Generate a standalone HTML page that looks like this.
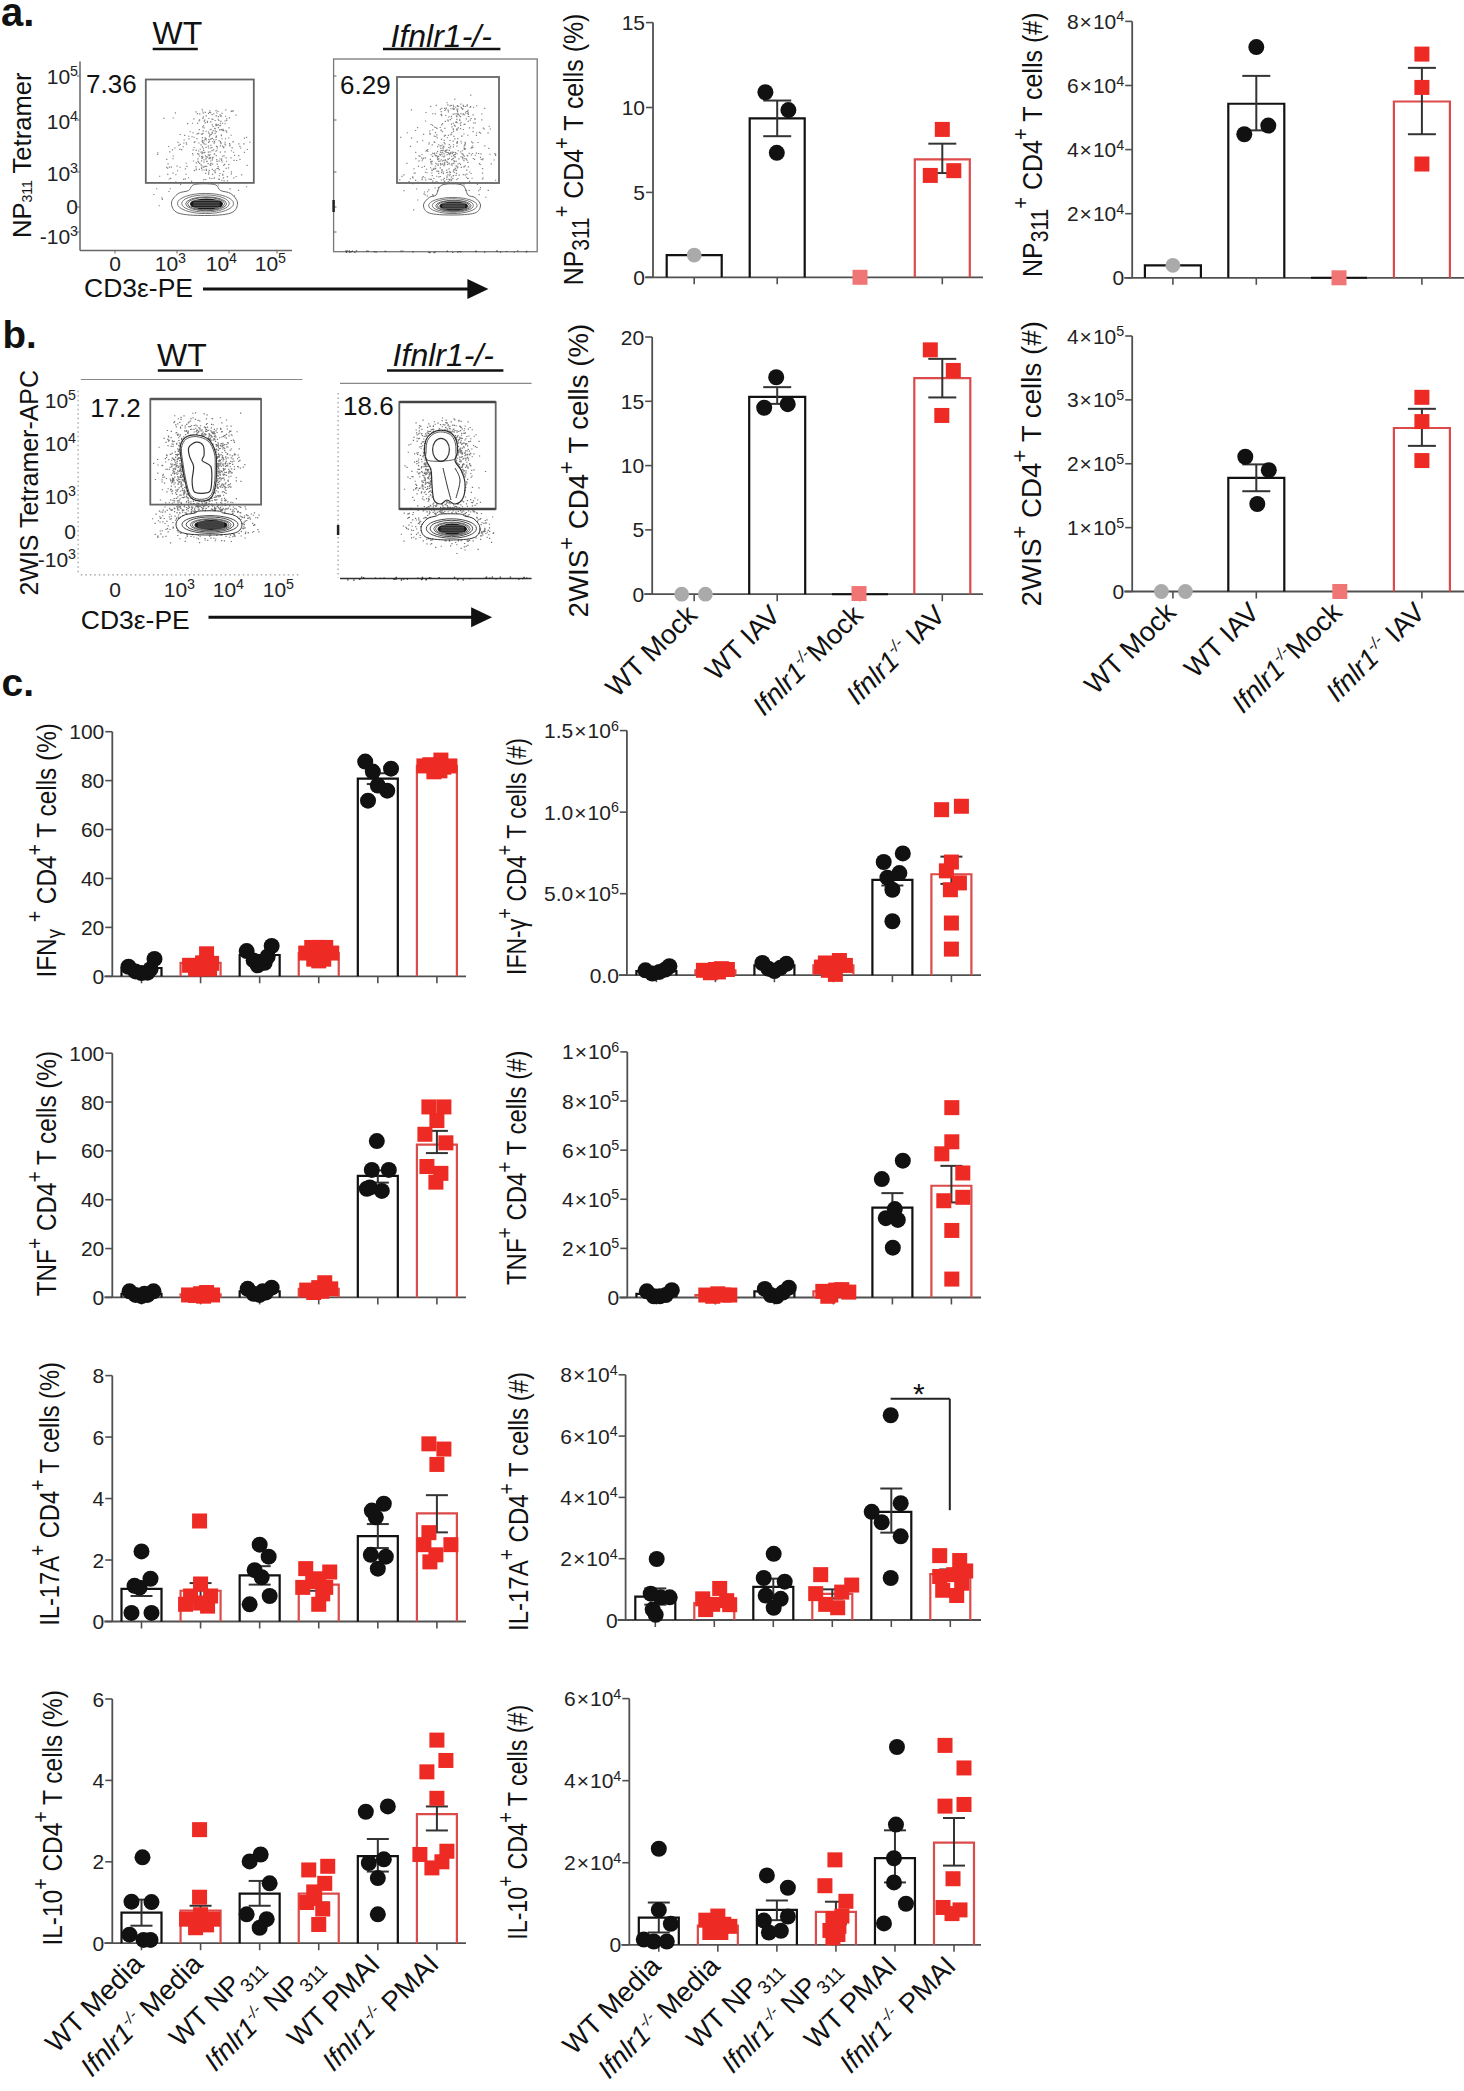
<!DOCTYPE html>
<html><head><meta charset="utf-8"><style>
html,body{margin:0;padding:0;background:#fff;}
svg{display:block;font-family:"Liberation Sans", sans-serif;}
</style></head><body>
<svg width="1464" height="2091" viewBox="0 0 1464 2091">
<rect width="1464" height="2091" fill="#fff"/>
<line x1="653" y1="22.6" x2="653" y2="277.3" stroke="#505050" stroke-width="1.8" />
<line x1="645" y1="277.3" x2="983" y2="277.3" stroke="#505050" stroke-width="1.8" />
<line x1="646" y1="277.3" x2="653" y2="277.3" stroke="#505050" stroke-width="1.6" />
<text x="645" y="284.8" font-size="21" text-anchor="end" fill="#222">0</text>
<line x1="646" y1="192.4" x2="653" y2="192.4" stroke="#505050" stroke-width="1.6" />
<text x="645" y="199.9" font-size="21" text-anchor="end" fill="#222">5</text>
<line x1="646" y1="107.5" x2="653" y2="107.5" stroke="#505050" stroke-width="1.6" />
<text x="645" y="115" font-size="21" text-anchor="end" fill="#222">10</text>
<line x1="646" y1="22.6" x2="653" y2="22.6" stroke="#505050" stroke-width="1.6" />
<text x="645" y="30.1" font-size="21" text-anchor="end" fill="#222">15</text>
<line x1="694.2" y1="277.3" x2="694.2" y2="284.3" stroke="#505050" stroke-width="1.6" />
<path d="M666.7 277.3 V255.06 H721.7 V277.3" fill="none" stroke="#111" stroke-width="2.2"/>
<circle cx="694.2" cy="255.06" r="7.4" fill="#aaaaaa"/>
<line x1="777.2" y1="277.3" x2="777.2" y2="284.3" stroke="#505050" stroke-width="1.6" />
<path d="M749.7 277.3 V118.37 H804.7 V277.3" fill="none" stroke="#111" stroke-width="2.2"/>
<line x1="777.2" y1="136.2" x2="777.2" y2="100.54" stroke="#333" stroke-width="2.0" />
<line x1="763.2" y1="100.54" x2="791.2" y2="100.54" stroke="#333" stroke-width="2.0" />
<line x1="763.2" y1="136.2" x2="791.2" y2="136.2" stroke="#333" stroke-width="2.0" />
<circle cx="765.4" cy="92.22" r="8" fill="#111"/>
<circle cx="788.4" cy="110.05" r="8" fill="#111"/>
<circle cx="776.8" cy="152.84" r="8" fill="#111"/>
<line x1="860" y1="277.3" x2="860" y2="284.3" stroke="#505050" stroke-width="1.6" />
<rect x="852.5" y="269.8" width="15" height="15" fill="#f07575"/>
<line x1="942.3" y1="277.3" x2="942.3" y2="284.3" stroke="#505050" stroke-width="1.6" />
<path d="M914.8 277.3 V159.29 H969.8 V277.3" fill="none" stroke="#dc4a4a" stroke-width="2.2"/>
<line x1="942.3" y1="173.04" x2="942.3" y2="143.67" stroke="#333" stroke-width="2.0" />
<line x1="928.3" y1="143.67" x2="956.3" y2="143.67" stroke="#333" stroke-width="2.0" />
<line x1="928.3" y1="173.04" x2="956.3" y2="173.04" stroke="#333" stroke-width="2.0" />
<rect x="934.8" y="121.9" width="15" height="15" fill="#ee2a24"/>
<rect x="922.8" y="167.92" width="15" height="15" fill="#ee2a24"/>
<rect x="946.3" y="163.17" width="15" height="15" fill="#ee2a24"/>
<text x="583.3" y="285.3" font-size="25" fill="#111" textLength="271.7" lengthAdjust="spacingAndGlyphs" transform="translate(583.3 285.3) scale(1.1 1) rotate(-90) translate(-583.3 -285.3)"><tspan font-size="25" dy="0">NP</tspan><tspan font-size="21" dy="5">311</tspan><tspan font-size="20" dy="-18">+</tspan><tspan font-size="25" dy="13"> CD4</tspan><tspan font-size="20" dy="-13">+</tspan><tspan font-size="25" dy="13"> T cells (%)</tspan></text>
<line x1="1132.2" y1="21.4" x2="1132.2" y2="277.8" stroke="#505050" stroke-width="1.8" />
<line x1="1124.2" y1="277.8" x2="1464" y2="277.8" stroke="#505050" stroke-width="1.8" />
<line x1="1125.2" y1="277.8" x2="1132.2" y2="277.8" stroke="#505050" stroke-width="1.6" />
<text x="1124.2" y="285.3" font-size="21" text-anchor="end" fill="#222">0</text>
<line x1="1125.2" y1="213.7" x2="1132.2" y2="213.7" stroke="#505050" stroke-width="1.6" />
<text x="1124.2" y="221.2" font-size="21" text-anchor="end" fill="#222"><tspan>2</tspan><tspan dx="1">×</tspan><tspan dx="1">10</tspan><tspan font-size="14.3" dy="-7.5">4</tspan><tspan dy="7.5"></tspan></text>
<line x1="1125.2" y1="149.6" x2="1132.2" y2="149.6" stroke="#505050" stroke-width="1.6" />
<text x="1124.2" y="157.1" font-size="21" text-anchor="end" fill="#222"><tspan>4</tspan><tspan dx="1">×</tspan><tspan dx="1">10</tspan><tspan font-size="14.3" dy="-7.5">4</tspan><tspan dy="7.5"></tspan></text>
<line x1="1125.2" y1="85.5" x2="1132.2" y2="85.5" stroke="#505050" stroke-width="1.6" />
<text x="1124.2" y="93" font-size="21" text-anchor="end" fill="#222"><tspan>6</tspan><tspan dx="1">×</tspan><tspan dx="1">10</tspan><tspan font-size="14.3" dy="-7.5">4</tspan><tspan dy="7.5"></tspan></text>
<line x1="1125.2" y1="21.4" x2="1132.2" y2="21.4" stroke="#505050" stroke-width="1.6" />
<text x="1124.2" y="28.9" font-size="21" text-anchor="end" fill="#222"><tspan>8</tspan><tspan dx="1">×</tspan><tspan dx="1">10</tspan><tspan font-size="14.3" dy="-7.5">4</tspan><tspan dy="7.5"></tspan></text>
<line x1="1172.9" y1="277.8" x2="1172.9" y2="284.8" stroke="#505050" stroke-width="1.6" />
<path d="M1144.9 277.8 V265.3 H1200.9 V277.8" fill="none" stroke="#111" stroke-width="2.2"/>
<circle cx="1172.9" cy="265.3" r="7.4" fill="#aaaaaa"/>
<line x1="1256.3" y1="277.8" x2="1256.3" y2="284.8" stroke="#505050" stroke-width="1.6" />
<path d="M1228.3 277.8 V103.77 H1284.3 V277.8" fill="none" stroke="#111" stroke-width="2.2"/>
<line x1="1256.3" y1="130.37" x2="1256.3" y2="75.88" stroke="#333" stroke-width="2.0" />
<line x1="1242.3" y1="75.88" x2="1270.3" y2="75.88" stroke="#333" stroke-width="2.0" />
<line x1="1242.3" y1="130.37" x2="1270.3" y2="130.37" stroke="#333" stroke-width="2.0" />
<circle cx="1256.3" cy="47.04" r="8" fill="#111"/>
<circle cx="1244.3" cy="134.22" r="8" fill="#111"/>
<circle cx="1268.3" cy="125.56" r="8" fill="#111"/>
<line x1="1339" y1="277.8" x2="1339" y2="284.8" stroke="#505050" stroke-width="1.6" />
<line x1="1311" y1="277.8" x2="1367" y2="277.8" stroke="#111" stroke-width="2" />
<rect x="1331.5" y="270.3" width="15" height="15" fill="#f07575"/>
<line x1="1421.9" y1="277.8" x2="1421.9" y2="284.8" stroke="#505050" stroke-width="1.6" />
<path d="M1393.9 277.8 V101.52 H1449.9 V277.8" fill="none" stroke="#dc4a4a" stroke-width="2.2"/>
<line x1="1421.9" y1="134.22" x2="1421.9" y2="67.87" stroke="#333" stroke-width="2.0" />
<line x1="1407.9" y1="67.87" x2="1435.9" y2="67.87" stroke="#333" stroke-width="2.0" />
<line x1="1407.9" y1="134.22" x2="1435.9" y2="134.22" stroke="#333" stroke-width="2.0" />
<rect x="1414.4" y="46.59" width="15" height="15" fill="#ee2a24"/>
<rect x="1414.4" y="79.92" width="15" height="15" fill="#ee2a24"/>
<rect x="1414.4" y="156.52" width="15" height="15" fill="#ee2a24"/>
<text x="1042.5" y="277" font-size="25" fill="#111" textLength="264.5" lengthAdjust="spacingAndGlyphs" transform="translate(1042.5 277) scale(1.1 1) rotate(-90) translate(-1042.5 -277)"><tspan font-size="25" dy="0">NP</tspan><tspan font-size="21" dy="5">311</tspan><tspan font-size="20" dy="-18">+</tspan><tspan font-size="25" dy="13"> CD4</tspan><tspan font-size="20" dy="-13">+</tspan><tspan font-size="25" dy="13"> T cells (#)</tspan></text>
<line x1="652.2" y1="337" x2="652.2" y2="594.2" stroke="#505050" stroke-width="1.8" />
<line x1="644.2" y1="594.2" x2="983" y2="594.2" stroke="#505050" stroke-width="1.8" />
<line x1="645.2" y1="594.2" x2="652.2" y2="594.2" stroke="#505050" stroke-width="1.6" />
<text x="644.2" y="601.7" font-size="21" text-anchor="end" fill="#222">0</text>
<line x1="645.2" y1="529.9" x2="652.2" y2="529.9" stroke="#505050" stroke-width="1.6" />
<text x="644.2" y="537.4" font-size="21" text-anchor="end" fill="#222">5</text>
<line x1="645.2" y1="465.6" x2="652.2" y2="465.6" stroke="#505050" stroke-width="1.6" />
<text x="644.2" y="473.1" font-size="21" text-anchor="end" fill="#222">10</text>
<line x1="645.2" y1="401.3" x2="652.2" y2="401.3" stroke="#505050" stroke-width="1.6" />
<text x="644.2" y="408.8" font-size="21" text-anchor="end" fill="#222">15</text>
<line x1="645.2" y1="337" x2="652.2" y2="337" stroke="#505050" stroke-width="1.6" />
<text x="644.2" y="344.5" font-size="21" text-anchor="end" fill="#222">20</text>
<line x1="694.2" y1="594.2" x2="694.2" y2="601.2" stroke="#505050" stroke-width="1.6" />
<circle cx="681.7" cy="594.2" r="7.4" fill="#aaaaaa"/>
<circle cx="705.4" cy="594.2" r="7.4" fill="#aaaaaa"/>
<line x1="777.2" y1="594.2" x2="777.2" y2="601.2" stroke="#505050" stroke-width="1.6" />
<path d="M749.2 594.2 V396.8 H805.2 V594.2" fill="none" stroke="#111" stroke-width="2.2"/>
<line x1="777.2" y1="403.87" x2="777.2" y2="387.15" stroke="#333" stroke-width="2.0" />
<line x1="763.2" y1="387.15" x2="791.2" y2="387.15" stroke="#333" stroke-width="2.0" />
<line x1="763.2" y1="403.87" x2="791.2" y2="403.87" stroke="#333" stroke-width="2.0" />
<circle cx="776.2" cy="377.25" r="8" fill="#111"/>
<circle cx="764.2" cy="407.73" r="8" fill="#111"/>
<circle cx="787.7" cy="404.13" r="8" fill="#111"/>
<line x1="860" y1="594.2" x2="860" y2="601.2" stroke="#505050" stroke-width="1.6" />
<line x1="832" y1="594.2" x2="888" y2="594.2" stroke="#111" stroke-width="2" />
<rect x="851.5" y="586.06" width="15" height="15" fill="#f07575"/>
<line x1="942.3" y1="594.2" x2="942.3" y2="601.2" stroke="#505050" stroke-width="1.6" />
<path d="M914.3 594.2 V378.15 H970.3 V594.2" fill="none" stroke="#dc4a4a" stroke-width="2.2"/>
<line x1="942.3" y1="397.44" x2="942.3" y2="358.86" stroke="#333" stroke-width="2.0" />
<line x1="928.3" y1="358.86" x2="956.3" y2="358.86" stroke="#333" stroke-width="2.0" />
<line x1="928.3" y1="397.44" x2="956.3" y2="397.44" stroke="#333" stroke-width="2.0" />
<rect x="922.8" y="342.36" width="15" height="15" fill="#ee2a24"/>
<rect x="945.8" y="362.94" width="15" height="15" fill="#ee2a24"/>
<rect x="934.3" y="407.95" width="15" height="15" fill="#ee2a24"/>
<text x="588.4" y="617.4" font-size="25" fill="#111" textLength="293.6" lengthAdjust="spacingAndGlyphs" transform="translate(588.4 617.4) scale(1.1 1) rotate(-90) translate(-588.4 -617.4)"><tspan font-size="25" dy="0">2WIS</tspan><tspan font-size="20" dy="-13">+</tspan><tspan font-size="25" dy="13"> CD4</tspan><tspan font-size="20" dy="-13">+</tspan><tspan font-size="25" dy="13"> T cells (%)</tspan></text>
<line x1="1132.2" y1="336" x2="1132.2" y2="591.5" stroke="#505050" stroke-width="1.8" />
<line x1="1124.2" y1="591.5" x2="1464" y2="591.5" stroke="#505050" stroke-width="1.8" />
<line x1="1125.2" y1="591.5" x2="1132.2" y2="591.5" stroke="#505050" stroke-width="1.6" />
<text x="1124.2" y="599" font-size="21" text-anchor="end" fill="#222">0</text>
<line x1="1125.2" y1="527.62" x2="1132.2" y2="527.62" stroke="#505050" stroke-width="1.6" />
<text x="1124.2" y="535.12" font-size="21" text-anchor="end" fill="#222"><tspan>1</tspan><tspan dx="1">×</tspan><tspan dx="1">10</tspan><tspan font-size="14.3" dy="-7.5">5</tspan><tspan dy="7.5"></tspan></text>
<line x1="1125.2" y1="463.75" x2="1132.2" y2="463.75" stroke="#505050" stroke-width="1.6" />
<text x="1124.2" y="471.25" font-size="21" text-anchor="end" fill="#222"><tspan>2</tspan><tspan dx="1">×</tspan><tspan dx="1">10</tspan><tspan font-size="14.3" dy="-7.5">5</tspan><tspan dy="7.5"></tspan></text>
<line x1="1125.2" y1="399.88" x2="1132.2" y2="399.88" stroke="#505050" stroke-width="1.6" />
<text x="1124.2" y="407.38" font-size="21" text-anchor="end" fill="#222"><tspan>3</tspan><tspan dx="1">×</tspan><tspan dx="1">10</tspan><tspan font-size="14.3" dy="-7.5">5</tspan><tspan dy="7.5"></tspan></text>
<line x1="1125.2" y1="336" x2="1132.2" y2="336" stroke="#505050" stroke-width="1.6" />
<text x="1124.2" y="343.5" font-size="21" text-anchor="end" fill="#222"><tspan>4</tspan><tspan dx="1">×</tspan><tspan dx="1">10</tspan><tspan font-size="14.3" dy="-7.5">5</tspan><tspan dy="7.5"></tspan></text>
<line x1="1172.9" y1="591.5" x2="1172.9" y2="598.5" stroke="#505050" stroke-width="1.6" />
<circle cx="1161.4" cy="591.5" r="7.4" fill="#aaaaaa"/>
<circle cx="1185.4" cy="591.5" r="7.4" fill="#aaaaaa"/>
<line x1="1256.3" y1="591.5" x2="1256.3" y2="598.5" stroke="#505050" stroke-width="1.6" />
<path d="M1228.3 591.5 V477.8 H1284.3 V591.5" fill="none" stroke="#111" stroke-width="2.2"/>
<line x1="1256.3" y1="491.22" x2="1256.3" y2="464.39" stroke="#333" stroke-width="2.0" />
<line x1="1242.3" y1="464.39" x2="1270.3" y2="464.39" stroke="#333" stroke-width="2.0" />
<line x1="1242.3" y1="491.22" x2="1270.3" y2="491.22" stroke="#333" stroke-width="2.0" />
<circle cx="1245.3" cy="456.72" r="8" fill="#111"/>
<circle cx="1268.8" cy="470.14" r="8" fill="#111"/>
<circle cx="1257.3" cy="503.99" r="8" fill="#111"/>
<line x1="1339" y1="591.5" x2="1339" y2="598.5" stroke="#505050" stroke-width="1.6" />
<rect x="1332.3" y="584" width="15" height="15" fill="#f07575"/>
<line x1="1421.9" y1="591.5" x2="1421.9" y2="598.5" stroke="#505050" stroke-width="1.6" />
<path d="M1393.9 591.5 V427.98 H1449.9 V591.5" fill="none" stroke="#dc4a4a" stroke-width="2.2"/>
<line x1="1421.9" y1="445.87" x2="1421.9" y2="408.82" stroke="#333" stroke-width="2.0" />
<line x1="1407.9" y1="408.82" x2="1435.9" y2="408.82" stroke="#333" stroke-width="2.0" />
<line x1="1407.9" y1="445.87" x2="1435.9" y2="445.87" stroke="#333" stroke-width="2.0" />
<rect x="1414.4" y="389.82" width="15" height="15" fill="#ee2a24"/>
<rect x="1414.4" y="414.09" width="15" height="15" fill="#ee2a24"/>
<rect x="1414.4" y="453.06" width="15" height="15" fill="#ee2a24"/>
<text x="1041.5" y="606.4" font-size="25" fill="#111" textLength="285.3" lengthAdjust="spacingAndGlyphs" transform="translate(1041.5 606.4) scale(1.1 1) rotate(-90) translate(-1041.5 -606.4)"><tspan font-size="25" dy="0">2WIS</tspan><tspan font-size="20" dy="-13">+</tspan><tspan font-size="25" dy="13"> CD4</tspan><tspan font-size="20" dy="-13">+</tspan><tspan font-size="25" dy="13"> T cells (#)</tspan></text>
<text x="698.7" y="616.7" font-size="27.5" text-anchor="end" fill="#111" transform="rotate(-45 698.7 616.7)">WT Mock</text>
<text x="781.7" y="616.7" font-size="27.5" text-anchor="end" fill="#111" transform="rotate(-45 781.7 616.7)">WT IAV</text>
<text x="864.5" y="616.7" font-size="27.5" text-anchor="end" fill="#111" transform="rotate(-45 864.5 616.7)"><tspan font-size="27.5" dy="0" font-style="italic">Ifnlr1</tspan><tspan font-size="16" dy="-11" font-style="italic">-/-</tspan><tspan font-size="27.5" dy="11">Mock</tspan></text>
<text x="946.8" y="616.7" font-size="27.5" text-anchor="end" fill="#111" transform="rotate(-45 946.8 616.7)"><tspan font-size="27.5" dy="0" font-style="italic">Ifnlr1</tspan><tspan font-size="16" dy="-11" font-style="italic">-/-</tspan><tspan font-size="27.5" dy="11"> IAV</tspan></text>
<text x="1177.4" y="614" font-size="27.5" text-anchor="end" fill="#111" transform="rotate(-45 1177.4 614)">WT Mock</text>
<text x="1260.8" y="614" font-size="27.5" text-anchor="end" fill="#111" transform="rotate(-45 1260.8 614)">WT IAV</text>
<text x="1343.5" y="614" font-size="27.5" text-anchor="end" fill="#111" transform="rotate(-45 1343.5 614)"><tspan font-size="27.5" dy="0" font-style="italic">Ifnlr1</tspan><tspan font-size="16" dy="-11" font-style="italic">-/-</tspan><tspan font-size="27.5" dy="11">Mock</tspan></text>
<text x="1426.4" y="614" font-size="27.5" text-anchor="end" fill="#111" transform="rotate(-45 1426.4 614)"><tspan font-size="27.5" dy="0" font-style="italic">Ifnlr1</tspan><tspan font-size="16" dy="-11" font-style="italic">-/-</tspan><tspan font-size="27.5" dy="11"> IAV</tspan></text>
<line x1="112.3" y1="731.7" x2="112.3" y2="976.3" stroke="#505050" stroke-width="1.8" />
<line x1="104.3" y1="976.3" x2="466" y2="976.3" stroke="#505050" stroke-width="1.8" />
<line x1="105.3" y1="976.3" x2="112.3" y2="976.3" stroke="#505050" stroke-width="1.6" />
<text x="104.3" y="983.8" font-size="21" text-anchor="end" fill="#222">0</text>
<line x1="105.3" y1="927.38" x2="112.3" y2="927.38" stroke="#505050" stroke-width="1.6" />
<text x="104.3" y="934.88" font-size="21" text-anchor="end" fill="#222">20</text>
<line x1="105.3" y1="878.46" x2="112.3" y2="878.46" stroke="#505050" stroke-width="1.6" />
<text x="104.3" y="885.96" font-size="21" text-anchor="end" fill="#222">40</text>
<line x1="105.3" y1="829.54" x2="112.3" y2="829.54" stroke="#505050" stroke-width="1.6" />
<text x="104.3" y="837.04" font-size="21" text-anchor="end" fill="#222">60</text>
<line x1="105.3" y1="780.62" x2="112.3" y2="780.62" stroke="#505050" stroke-width="1.6" />
<text x="104.3" y="788.12" font-size="21" text-anchor="end" fill="#222">80</text>
<line x1="105.3" y1="731.7" x2="112.3" y2="731.7" stroke="#505050" stroke-width="1.6" />
<text x="104.3" y="739.2" font-size="21" text-anchor="end" fill="#222">100</text>
<line x1="141.5" y1="976.3" x2="141.5" y2="983.3" stroke="#505050" stroke-width="1.6" />
<path d="M121.5 976.3 V967.98 H161.5 V976.3" fill="none" stroke="#111" stroke-width="2.2"/>
<circle cx="128.5" cy="966.76" r="8" fill="#111"/>
<circle cx="135.5" cy="971.41" r="8" fill="#111"/>
<circle cx="141.5" cy="973.12" r="8" fill="#111"/>
<circle cx="147.5" cy="972.63" r="8" fill="#111"/>
<circle cx="150.5" cy="969.21" r="8" fill="#111"/>
<circle cx="154.5" cy="958.93" r="8" fill="#111"/>
<line x1="200.58" y1="976.3" x2="200.58" y2="983.3" stroke="#505050" stroke-width="1.6" />
<path d="M180.58 976.3 V962.85 H220.58 V976.3" fill="none" stroke="#dc4a4a" stroke-width="2.2"/>
<rect x="182.08" y="957.79" width="15" height="15" fill="#ee2a24"/>
<rect x="188.08" y="961.71" width="15" height="15" fill="#ee2a24"/>
<rect x="195.08" y="955.35" width="15" height="15" fill="#ee2a24"/>
<rect x="199.08" y="946.3" width="15" height="15" fill="#ee2a24"/>
<rect x="204.08" y="955.84" width="15" height="15" fill="#ee2a24"/>
<rect x="192.08" y="960.24" width="15" height="15" fill="#ee2a24"/>
<rect x="202.08" y="961.46" width="15" height="15" fill="#ee2a24"/>
<line x1="259.66" y1="976.3" x2="259.66" y2="983.3" stroke="#505050" stroke-width="1.6" />
<path d="M239.66 976.3 V955.02 H279.66 V976.3" fill="none" stroke="#111" stroke-width="2.2"/>
<circle cx="246.66" cy="951.11" r="8" fill="#111"/>
<circle cx="253.66" cy="960.4" r="8" fill="#111"/>
<circle cx="257.66" cy="965.29" r="8" fill="#111"/>
<circle cx="264.66" cy="962.85" r="8" fill="#111"/>
<circle cx="267.66" cy="956.49" r="8" fill="#111"/>
<circle cx="271.66" cy="945.97" r="8" fill="#111"/>
<line x1="318.74" y1="976.3" x2="318.74" y2="983.3" stroke="#505050" stroke-width="1.6" />
<path d="M298.74 976.3 V953.06 H338.74 V976.3" fill="none" stroke="#dc4a4a" stroke-width="2.2"/>
<rect x="298.24" y="945.56" width="15" height="15" fill="#ee2a24"/>
<rect x="304.24" y="939.94" width="15" height="15" fill="#ee2a24"/>
<rect x="311.24" y="939.94" width="15" height="15" fill="#ee2a24"/>
<rect x="318.24" y="939.94" width="15" height="15" fill="#ee2a24"/>
<rect x="324.24" y="945.56" width="15" height="15" fill="#ee2a24"/>
<rect x="306.24" y="951.68" width="15" height="15" fill="#ee2a24"/>
<rect x="311.24" y="953.39" width="15" height="15" fill="#ee2a24"/>
<rect x="316.24" y="951.68" width="15" height="15" fill="#ee2a24"/>
<line x1="377.82" y1="976.3" x2="377.82" y2="983.3" stroke="#505050" stroke-width="1.6" />
<path d="M357.82 976.3 V778.66 H397.82 V976.3" fill="none" stroke="#111" stroke-width="2.2"/>
<line x1="377.82" y1="784.04" x2="377.82" y2="773.28" stroke="#333" stroke-width="2.0" />
<line x1="366.82" y1="773.28" x2="388.82" y2="773.28" stroke="#333" stroke-width="2.0" />
<line x1="366.82" y1="784.04" x2="388.82" y2="784.04" stroke="#333" stroke-width="2.0" />
<circle cx="365.22" cy="761.54" r="8" fill="#111"/>
<circle cx="372.82" cy="771.57" r="8" fill="#111"/>
<circle cx="391.02" cy="768.63" r="8" fill="#111"/>
<circle cx="387.22" cy="790.65" r="8" fill="#111"/>
<circle cx="368.02" cy="800.68" r="8" fill="#111"/>
<circle cx="377.82" cy="785.51" r="8" fill="#111"/>
<line x1="436.9" y1="976.3" x2="436.9" y2="983.3" stroke="#505050" stroke-width="1.6" />
<path d="M416.9 976.3 V765.94 H456.9 V976.3" fill="none" stroke="#dc4a4a" stroke-width="2.2"/>
<line x1="436.9" y1="768.39" x2="436.9" y2="763.5" stroke="#333" stroke-width="2.0" />
<line x1="425.9" y1="763.5" x2="447.9" y2="763.5" stroke="#333" stroke-width="2.0" />
<line x1="425.9" y1="768.39" x2="447.9" y2="768.39" stroke="#333" stroke-width="2.0" />
<rect x="433.4" y="752.57" width="15" height="15" fill="#ee2a24"/>
<rect x="416.4" y="758.44" width="15" height="15" fill="#ee2a24"/>
<rect x="422.4" y="757.22" width="15" height="15" fill="#ee2a24"/>
<rect x="429.4" y="758.44" width="15" height="15" fill="#ee2a24"/>
<rect x="436.4" y="759.67" width="15" height="15" fill="#ee2a24"/>
<rect x="442.4" y="758.44" width="15" height="15" fill="#ee2a24"/>
<rect x="426.4" y="764.31" width="15" height="15" fill="#ee2a24"/>
<rect x="432.4" y="763.34" width="15" height="15" fill="#ee2a24"/>
<line x1="626.9" y1="730.6" x2="626.9" y2="975.2" stroke="#505050" stroke-width="1.8" />
<line x1="618.9" y1="975.2" x2="981" y2="975.2" stroke="#505050" stroke-width="1.8" />
<line x1="619.9" y1="975.2" x2="626.9" y2="975.2" stroke="#505050" stroke-width="1.6" />
<text x="618.9" y="982.7" font-size="21" text-anchor="end" fill="#222">0.0</text>
<line x1="619.9" y1="893.67" x2="626.9" y2="893.67" stroke="#505050" stroke-width="1.6" />
<text x="618.9" y="901.17" font-size="21" text-anchor="end" fill="#222"><tspan>5.0</tspan><tspan dx="1">×</tspan><tspan dx="1">10</tspan><tspan font-size="14.3" dy="-7.5">5</tspan><tspan dy="7.5"></tspan></text>
<line x1="619.9" y1="812.13" x2="626.9" y2="812.13" stroke="#505050" stroke-width="1.6" />
<text x="618.9" y="819.63" font-size="21" text-anchor="end" fill="#222"><tspan>1.0</tspan><tspan dx="1">×</tspan><tspan dx="1">10</tspan><tspan font-size="14.3" dy="-7.5">6</tspan><tspan dy="7.5"></tspan></text>
<line x1="619.9" y1="730.6" x2="626.9" y2="730.6" stroke="#505050" stroke-width="1.6" />
<text x="618.9" y="738.1" font-size="21" text-anchor="end" fill="#222"><tspan>1.5</tspan><tspan dx="1">×</tspan><tspan dx="1">10</tspan><tspan font-size="14.3" dy="-7.5">6</tspan><tspan dy="7.5"></tspan></text>
<line x1="656.4" y1="975.2" x2="656.4" y2="982.2" stroke="#505050" stroke-width="1.6" />
<path d="M636.4 975.2 V971.12 H676.4 V975.2" fill="none" stroke="#111" stroke-width="2.2"/>
<circle cx="645.4" cy="970.31" r="8" fill="#111"/>
<circle cx="652.4" cy="973.57" r="8" fill="#111"/>
<circle cx="659.4" cy="971.94" r="8" fill="#111"/>
<circle cx="665.4" cy="969.49" r="8" fill="#111"/>
<circle cx="669.4" cy="966.23" r="8" fill="#111"/>
<line x1="715.4" y1="975.2" x2="715.4" y2="982.2" stroke="#505050" stroke-width="1.6" />
<path d="M695.4 975.2 V970.31 H735.4 V975.2" fill="none" stroke="#dc4a4a" stroke-width="2.2"/>
<rect x="695.9" y="962.81" width="15" height="15" fill="#ee2a24"/>
<rect x="702.9" y="965.25" width="15" height="15" fill="#ee2a24"/>
<rect x="707.9" y="961.99" width="15" height="15" fill="#ee2a24"/>
<rect x="713.9" y="961.18" width="15" height="15" fill="#ee2a24"/>
<rect x="719.9" y="961.99" width="15" height="15" fill="#ee2a24"/>
<rect x="710.9" y="964.44" width="15" height="15" fill="#ee2a24"/>
<line x1="774.4" y1="975.2" x2="774.4" y2="982.2" stroke="#505050" stroke-width="1.6" />
<path d="M754.4 975.2 V965.42 H794.4 V975.2" fill="none" stroke="#111" stroke-width="2.2"/>
<circle cx="762.4" cy="962.97" r="8" fill="#111"/>
<circle cx="768.4" cy="968.68" r="8" fill="#111"/>
<circle cx="774.4" cy="971.12" r="8" fill="#111"/>
<circle cx="780.4" cy="967.86" r="8" fill="#111"/>
<circle cx="786.4" cy="963.79" r="8" fill="#111"/>
<line x1="833.4" y1="975.2" x2="833.4" y2="982.2" stroke="#505050" stroke-width="1.6" />
<path d="M813.4 975.2 V965.42 H853.4 V975.2" fill="none" stroke="#dc4a4a" stroke-width="2.2"/>
<rect x="813.9" y="959.55" width="15" height="15" fill="#ee2a24"/>
<rect x="820.9" y="962.81" width="15" height="15" fill="#ee2a24"/>
<rect x="825.9" y="956.29" width="15" height="15" fill="#ee2a24"/>
<rect x="831.9" y="953.02" width="15" height="15" fill="#ee2a24"/>
<rect x="837.9" y="957.92" width="15" height="15" fill="#ee2a24"/>
<rect x="827.9" y="966.88" width="15" height="15" fill="#ee2a24"/>
<rect x="817.9" y="955.47" width="15" height="15" fill="#ee2a24"/>
<line x1="892.4" y1="975.2" x2="892.4" y2="982.2" stroke="#505050" stroke-width="1.6" />
<path d="M872.4 975.2 V879.97 H912.4 V975.2" fill="none" stroke="#111" stroke-width="2.2"/>
<line x1="892.4" y1="885.51" x2="892.4" y2="874.1" stroke="#333" stroke-width="2.0" />
<line x1="881.4" y1="874.1" x2="903.4" y2="874.1" stroke="#333" stroke-width="2.0" />
<line x1="881.4" y1="885.51" x2="903.4" y2="885.51" stroke="#333" stroke-width="2.0" />
<circle cx="883.7" cy="862.03" r="8" fill="#111"/>
<circle cx="902.8" cy="853.39" r="8" fill="#111"/>
<circle cx="899.4" cy="873.12" r="8" fill="#111"/>
<circle cx="887.4" cy="877.69" r="8" fill="#111"/>
<circle cx="892.4" cy="889.75" r="8" fill="#111"/>
<circle cx="892.4" cy="921.22" r="8" fill="#111"/>
<line x1="951.4" y1="975.2" x2="951.4" y2="982.2" stroke="#505050" stroke-width="1.6" />
<path d="M931.4 975.2 V874.26 H971.4 V975.2" fill="none" stroke="#dc4a4a" stroke-width="2.2"/>
<line x1="951.4" y1="883.88" x2="951.4" y2="856.65" stroke="#333" stroke-width="2.0" />
<line x1="940.4" y1="856.65" x2="962.4" y2="856.65" stroke="#333" stroke-width="2.0" />
<line x1="940.4" y1="883.88" x2="962.4" y2="883.88" stroke="#333" stroke-width="2.0" />
<rect x="934.1" y="802.19" width="15" height="15" fill="#ee2a24"/>
<rect x="953.9" y="798.76" width="15" height="15" fill="#ee2a24"/>
<rect x="943.9" y="854.53" width="15" height="15" fill="#ee2a24"/>
<rect x="938.9" y="863.34" width="15" height="15" fill="#ee2a24"/>
<rect x="951.9" y="875.4" width="15" height="15" fill="#ee2a24"/>
<rect x="942.9" y="882.25" width="15" height="15" fill="#ee2a24"/>
<rect x="943.9" y="915.52" width="15" height="15" fill="#ee2a24"/>
<rect x="943.9" y="941.61" width="15" height="15" fill="#ee2a24"/>
<line x1="112.3" y1="1053.2" x2="112.3" y2="1297.4" stroke="#505050" stroke-width="1.8" />
<line x1="104.3" y1="1297.4" x2="466" y2="1297.4" stroke="#505050" stroke-width="1.8" />
<line x1="105.3" y1="1297.4" x2="112.3" y2="1297.4" stroke="#505050" stroke-width="1.6" />
<text x="104.3" y="1304.9" font-size="21" text-anchor="end" fill="#222">0</text>
<line x1="105.3" y1="1248.56" x2="112.3" y2="1248.56" stroke="#505050" stroke-width="1.6" />
<text x="104.3" y="1256.06" font-size="21" text-anchor="end" fill="#222">20</text>
<line x1="105.3" y1="1199.72" x2="112.3" y2="1199.72" stroke="#505050" stroke-width="1.6" />
<text x="104.3" y="1207.22" font-size="21" text-anchor="end" fill="#222">40</text>
<line x1="105.3" y1="1150.88" x2="112.3" y2="1150.88" stroke="#505050" stroke-width="1.6" />
<text x="104.3" y="1158.38" font-size="21" text-anchor="end" fill="#222">60</text>
<line x1="105.3" y1="1102.04" x2="112.3" y2="1102.04" stroke="#505050" stroke-width="1.6" />
<text x="104.3" y="1109.54" font-size="21" text-anchor="end" fill="#222">80</text>
<line x1="105.3" y1="1053.2" x2="112.3" y2="1053.2" stroke="#505050" stroke-width="1.6" />
<text x="104.3" y="1060.7" font-size="21" text-anchor="end" fill="#222">100</text>
<line x1="141.5" y1="1297.4" x2="141.5" y2="1304.4" stroke="#505050" stroke-width="1.6" />
<path d="M121.5 1297.4 V1293.74 H161.5 V1297.4" fill="none" stroke="#111" stroke-width="2.2"/>
<circle cx="129.5" cy="1291.3" r="8" fill="#111"/>
<circle cx="135.5" cy="1294.96" r="8" fill="#111"/>
<circle cx="141.5" cy="1296.18" r="8" fill="#111"/>
<circle cx="147.5" cy="1294.96" r="8" fill="#111"/>
<circle cx="153.5" cy="1291.3" r="8" fill="#111"/>
<circle cx="144.5" cy="1293.74" r="8" fill="#111"/>
<line x1="200.58" y1="1297.4" x2="200.58" y2="1304.4" stroke="#505050" stroke-width="1.6" />
<path d="M180.58 1297.4 V1294.47 H220.58 V1297.4" fill="none" stroke="#dc4a4a" stroke-width="2.2"/>
<rect x="181.08" y="1287.46" width="15" height="15" fill="#ee2a24"/>
<rect x="188.08" y="1287.95" width="15" height="15" fill="#ee2a24"/>
<rect x="193.08" y="1286.24" width="15" height="15" fill="#ee2a24"/>
<rect x="199.08" y="1285.02" width="15" height="15" fill="#ee2a24"/>
<rect x="205.08" y="1287.46" width="15" height="15" fill="#ee2a24"/>
<rect x="196.08" y="1288.68" width="15" height="15" fill="#ee2a24"/>
<line x1="259.66" y1="1297.4" x2="259.66" y2="1304.4" stroke="#505050" stroke-width="1.6" />
<path d="M239.66 1297.4 V1291.3 H279.66 V1297.4" fill="none" stroke="#111" stroke-width="2.2"/>
<circle cx="247.66" cy="1288.85" r="8" fill="#111"/>
<circle cx="253.66" cy="1293.74" r="8" fill="#111"/>
<circle cx="259.66" cy="1294.96" r="8" fill="#111"/>
<circle cx="265.66" cy="1292.52" r="8" fill="#111"/>
<circle cx="271.66" cy="1287.63" r="8" fill="#111"/>
<circle cx="262.66" cy="1291.3" r="8" fill="#111"/>
<line x1="318.74" y1="1297.4" x2="318.74" y2="1304.4" stroke="#505050" stroke-width="1.6" />
<path d="M298.74 1297.4 V1288.85 H338.74 V1297.4" fill="none" stroke="#dc4a4a" stroke-width="2.2"/>
<rect x="299.24" y="1282.57" width="15" height="15" fill="#ee2a24"/>
<rect x="306.24" y="1285.02" width="15" height="15" fill="#ee2a24"/>
<rect x="311.24" y="1280.13" width="15" height="15" fill="#ee2a24"/>
<rect x="317.24" y="1275.25" width="15" height="15" fill="#ee2a24"/>
<rect x="323.24" y="1281.35" width="15" height="15" fill="#ee2a24"/>
<rect x="314.24" y="1283.8" width="15" height="15" fill="#ee2a24"/>
<line x1="377.82" y1="1297.4" x2="377.82" y2="1304.4" stroke="#505050" stroke-width="1.6" />
<path d="M357.82 1297.4 V1175.79 H397.82 V1297.4" fill="none" stroke="#111" stroke-width="2.2"/>
<line x1="377.82" y1="1182.63" x2="377.82" y2="1170.42" stroke="#333" stroke-width="2.0" />
<line x1="366.82" y1="1170.42" x2="388.82" y2="1170.42" stroke="#333" stroke-width="2.0" />
<line x1="366.82" y1="1182.63" x2="388.82" y2="1182.63" stroke="#333" stroke-width="2.0" />
<circle cx="376.82" cy="1141.11" r="8" fill="#111"/>
<circle cx="371.82" cy="1169.93" r="8" fill="#111"/>
<circle cx="388.82" cy="1169.93" r="8" fill="#111"/>
<circle cx="369.82" cy="1187.51" r="8" fill="#111"/>
<circle cx="381.82" cy="1190.93" r="8" fill="#111"/>
<circle cx="366.82" cy="1188.73" r="8" fill="#111"/>
<line x1="436.9" y1="1297.4" x2="436.9" y2="1304.4" stroke="#505050" stroke-width="1.6" />
<path d="M416.9 1297.4 V1144.53 H456.9 V1297.4" fill="none" stroke="#dc4a4a" stroke-width="2.2"/>
<line x1="436.9" y1="1153.08" x2="436.9" y2="1130.86" stroke="#333" stroke-width="2.0" />
<line x1="425.9" y1="1130.86" x2="447.9" y2="1130.86" stroke="#333" stroke-width="2.0" />
<line x1="425.9" y1="1153.08" x2="447.9" y2="1153.08" stroke="#333" stroke-width="2.0" />
<rect x="421.4" y="1099.42" width="15" height="15" fill="#ee2a24"/>
<rect x="436.4" y="1099.42" width="15" height="15" fill="#ee2a24"/>
<rect x="429.4" y="1113.1" width="15" height="15" fill="#ee2a24"/>
<rect x="417.4" y="1126.77" width="15" height="15" fill="#ee2a24"/>
<rect x="438.4" y="1135.32" width="15" height="15" fill="#ee2a24"/>
<rect x="419.4" y="1159.01" width="15" height="15" fill="#ee2a24"/>
<rect x="433.4" y="1165.85" width="15" height="15" fill="#ee2a24"/>
<rect x="428.4" y="1174.64" width="15" height="15" fill="#ee2a24"/>
<line x1="627.3" y1="1051.9" x2="627.3" y2="1297.5" stroke="#505050" stroke-width="1.8" />
<line x1="619.3" y1="1297.5" x2="981" y2="1297.5" stroke="#505050" stroke-width="1.8" />
<line x1="620.3" y1="1297.5" x2="627.3" y2="1297.5" stroke="#505050" stroke-width="1.6" />
<text x="619.3" y="1305" font-size="21" text-anchor="end" fill="#222">0</text>
<line x1="620.3" y1="1248.38" x2="627.3" y2="1248.38" stroke="#505050" stroke-width="1.6" />
<text x="619.3" y="1255.88" font-size="21" text-anchor="end" fill="#222"><tspan>2</tspan><tspan dx="1">×</tspan><tspan dx="1">10</tspan><tspan font-size="14.3" dy="-7.5">5</tspan><tspan dy="7.5"></tspan></text>
<line x1="620.3" y1="1199.26" x2="627.3" y2="1199.26" stroke="#505050" stroke-width="1.6" />
<text x="619.3" y="1206.76" font-size="21" text-anchor="end" fill="#222"><tspan>4</tspan><tspan dx="1">×</tspan><tspan dx="1">10</tspan><tspan font-size="14.3" dy="-7.5">5</tspan><tspan dy="7.5"></tspan></text>
<line x1="620.3" y1="1150.14" x2="627.3" y2="1150.14" stroke="#505050" stroke-width="1.6" />
<text x="619.3" y="1157.64" font-size="21" text-anchor="end" fill="#222"><tspan>6</tspan><tspan dx="1">×</tspan><tspan dx="1">10</tspan><tspan font-size="14.3" dy="-7.5">5</tspan><tspan dy="7.5"></tspan></text>
<line x1="620.3" y1="1101.02" x2="627.3" y2="1101.02" stroke="#505050" stroke-width="1.6" />
<text x="619.3" y="1108.52" font-size="21" text-anchor="end" fill="#222"><tspan>8</tspan><tspan dx="1">×</tspan><tspan dx="1">10</tspan><tspan font-size="14.3" dy="-7.5">5</tspan><tspan dy="7.5"></tspan></text>
<line x1="620.3" y1="1051.9" x2="627.3" y2="1051.9" stroke="#505050" stroke-width="1.6" />
<text x="619.3" y="1059.4" font-size="21" text-anchor="end" fill="#222"><tspan>1</tspan><tspan dx="1">×</tspan><tspan dx="1">10</tspan><tspan font-size="14.3" dy="-7.5">6</tspan><tspan dy="7.5"></tspan></text>
<line x1="656.4" y1="1297.5" x2="656.4" y2="1304.5" stroke="#505050" stroke-width="1.6" />
<path d="M636.4 1297.5 V1293.82 H676.4 V1297.5" fill="none" stroke="#111" stroke-width="2.2"/>
<circle cx="646.8" cy="1291.36" r="8" fill="#111"/>
<circle cx="653.8" cy="1296.27" r="8" fill="#111"/>
<circle cx="659.8" cy="1296.27" r="8" fill="#111"/>
<circle cx="665.8" cy="1295.04" r="8" fill="#111"/>
<circle cx="671.8" cy="1290.13" r="8" fill="#111"/>
<line x1="715.4" y1="1297.5" x2="715.4" y2="1304.5" stroke="#505050" stroke-width="1.6" />
<path d="M695.4 1297.5 V1295.04 H735.4 V1297.5" fill="none" stroke="#dc4a4a" stroke-width="2.2"/>
<rect x="698.3" y="1287.54" width="15" height="15" fill="#ee2a24"/>
<rect x="705.3" y="1288.77" width="15" height="15" fill="#ee2a24"/>
<rect x="710.3" y="1286.32" width="15" height="15" fill="#ee2a24"/>
<rect x="716.3" y="1287.54" width="15" height="15" fill="#ee2a24"/>
<rect x="722.3" y="1287.54" width="15" height="15" fill="#ee2a24"/>
<line x1="774.4" y1="1297.5" x2="774.4" y2="1304.5" stroke="#505050" stroke-width="1.6" />
<path d="M754.4 1297.5 V1291.36 H794.4 V1297.5" fill="none" stroke="#111" stroke-width="2.2"/>
<circle cx="764.8" cy="1288.9" r="8" fill="#111"/>
<circle cx="770.8" cy="1295.04" r="8" fill="#111"/>
<circle cx="776.8" cy="1296.27" r="8" fill="#111"/>
<circle cx="782.8" cy="1292.59" r="8" fill="#111"/>
<circle cx="788.8" cy="1287.68" r="8" fill="#111"/>
<line x1="833.4" y1="1297.5" x2="833.4" y2="1304.5" stroke="#505050" stroke-width="1.6" />
<path d="M813.4 1297.5 V1291.36 H853.4 V1297.5" fill="none" stroke="#dc4a4a" stroke-width="2.2"/>
<rect x="815.3" y="1283.86" width="15" height="15" fill="#ee2a24"/>
<rect x="823.3" y="1287.54" width="15" height="15" fill="#ee2a24"/>
<rect x="828.3" y="1282.63" width="15" height="15" fill="#ee2a24"/>
<rect x="834.3" y="1282.14" width="15" height="15" fill="#ee2a24"/>
<rect x="841.3" y="1284.6" width="15" height="15" fill="#ee2a24"/>
<rect x="820.3" y="1288.77" width="15" height="15" fill="#ee2a24"/>
<line x1="892.4" y1="1297.5" x2="892.4" y2="1304.5" stroke="#505050" stroke-width="1.6" />
<path d="M872.4 1297.5 V1207.61 H912.4 V1297.5" fill="none" stroke="#111" stroke-width="2.2"/>
<line x1="892.4" y1="1221.36" x2="892.4" y2="1193.12" stroke="#333" stroke-width="2.0" />
<line x1="881.4" y1="1193.12" x2="903.4" y2="1193.12" stroke="#333" stroke-width="2.0" />
<line x1="881.4" y1="1221.36" x2="903.4" y2="1221.36" stroke="#333" stroke-width="2.0" />
<circle cx="881.8" cy="1179.12" r="8" fill="#111"/>
<circle cx="902.8" cy="1160.7" r="8" fill="#111"/>
<circle cx="885.8" cy="1218.17" r="8" fill="#111"/>
<circle cx="897.8" cy="1219.89" r="8" fill="#111"/>
<circle cx="892.8" cy="1247.64" r="8" fill="#111"/>
<circle cx="894.8" cy="1209.08" r="8" fill="#111"/>
<line x1="951.4" y1="1297.5" x2="951.4" y2="1304.5" stroke="#505050" stroke-width="1.6" />
<path d="M931.4 1297.5 V1185.75 H971.4 V1297.5" fill="none" stroke="#dc4a4a" stroke-width="2.2"/>
<line x1="951.4" y1="1202.45" x2="951.4" y2="1165.86" stroke="#333" stroke-width="2.0" />
<line x1="940.4" y1="1165.86" x2="962.4" y2="1165.86" stroke="#333" stroke-width="2.0" />
<line x1="940.4" y1="1202.45" x2="962.4" y2="1202.45" stroke="#333" stroke-width="2.0" />
<rect x="944.3" y="1100.15" width="15" height="15" fill="#ee2a24"/>
<rect x="944.3" y="1134.29" width="15" height="15" fill="#ee2a24"/>
<rect x="934.3" y="1146.32" width="15" height="15" fill="#ee2a24"/>
<rect x="955.3" y="1165.48" width="15" height="15" fill="#ee2a24"/>
<rect x="936.3" y="1193.23" width="15" height="15" fill="#ee2a24"/>
<rect x="955.3" y="1189.8" width="15" height="15" fill="#ee2a24"/>
<rect x="944.3" y="1222.95" width="15" height="15" fill="#ee2a24"/>
<rect x="944.3" y="1271.58" width="15" height="15" fill="#ee2a24"/>
<line x1="112.3" y1="1375.6" x2="112.3" y2="1621.5" stroke="#505050" stroke-width="1.8" />
<line x1="104.3" y1="1621.5" x2="466" y2="1621.5" stroke="#505050" stroke-width="1.8" />
<line x1="105.3" y1="1621.5" x2="112.3" y2="1621.5" stroke="#505050" stroke-width="1.6" />
<text x="104.3" y="1629" font-size="21" text-anchor="end" fill="#222">0</text>
<line x1="105.3" y1="1560.03" x2="112.3" y2="1560.03" stroke="#505050" stroke-width="1.6" />
<text x="104.3" y="1567.53" font-size="21" text-anchor="end" fill="#222">2</text>
<line x1="105.3" y1="1498.55" x2="112.3" y2="1498.55" stroke="#505050" stroke-width="1.6" />
<text x="104.3" y="1506.05" font-size="21" text-anchor="end" fill="#222">4</text>
<line x1="105.3" y1="1437.07" x2="112.3" y2="1437.07" stroke="#505050" stroke-width="1.6" />
<text x="104.3" y="1444.57" font-size="21" text-anchor="end" fill="#222">6</text>
<line x1="105.3" y1="1375.6" x2="112.3" y2="1375.6" stroke="#505050" stroke-width="1.6" />
<text x="104.3" y="1383.1" font-size="21" text-anchor="end" fill="#222">8</text>
<line x1="141.5" y1="1621.5" x2="141.5" y2="1628.5" stroke="#505050" stroke-width="1.6" />
<path d="M121.5 1621.5 V1588.92 H161.5 V1621.5" fill="none" stroke="#111" stroke-width="2.2"/>
<line x1="141.5" y1="1595.99" x2="141.5" y2="1581.54" stroke="#333" stroke-width="2.0" />
<line x1="130.5" y1="1581.54" x2="152.5" y2="1581.54" stroke="#333" stroke-width="2.0" />
<line x1="130.5" y1="1595.99" x2="152.5" y2="1595.99" stroke="#333" stroke-width="2.0" />
<circle cx="141.5" cy="1551.42" r="8" fill="#111"/>
<circle cx="150.5" cy="1578.77" r="8" fill="#111"/>
<circle cx="134.5" cy="1585.84" r="8" fill="#111"/>
<circle cx="131.5" cy="1612.89" r="8" fill="#111"/>
<circle cx="151.5" cy="1612.89" r="8" fill="#111"/>
<circle cx="139.5" cy="1587.69" r="8" fill="#111"/>
<line x1="200.58" y1="1621.5" x2="200.58" y2="1628.5" stroke="#505050" stroke-width="1.6" />
<path d="M180.58 1621.5 V1590.76 H220.58 V1621.5" fill="none" stroke="#dc4a4a" stroke-width="2.2"/>
<line x1="200.58" y1="1596.91" x2="200.58" y2="1583.08" stroke="#333" stroke-width="2.0" />
<line x1="189.58" y1="1583.08" x2="211.58" y2="1583.08" stroke="#333" stroke-width="2.0" />
<line x1="189.58" y1="1596.91" x2="211.58" y2="1596.91" stroke="#333" stroke-width="2.0" />
<rect x="192.08" y="1513.49" width="15" height="15" fill="#ee2a24"/>
<rect x="193.08" y="1576.5" width="15" height="15" fill="#ee2a24"/>
<rect x="183.08" y="1588.49" width="15" height="15" fill="#ee2a24"/>
<rect x="203.08" y="1588.49" width="15" height="15" fill="#ee2a24"/>
<rect x="178.08" y="1596.79" width="15" height="15" fill="#ee2a24"/>
<rect x="200.08" y="1598.63" width="15" height="15" fill="#ee2a24"/>
<rect x="193.08" y="1595.56" width="15" height="15" fill="#ee2a24"/>
<line x1="259.66" y1="1621.5" x2="259.66" y2="1628.5" stroke="#505050" stroke-width="1.6" />
<path d="M239.66 1621.5 V1575.39 H279.66 V1621.5" fill="none" stroke="#111" stroke-width="2.2"/>
<line x1="259.66" y1="1584.62" x2="259.66" y2="1566.17" stroke="#333" stroke-width="2.0" />
<line x1="248.66" y1="1566.17" x2="270.66" y2="1566.17" stroke="#333" stroke-width="2.0" />
<line x1="248.66" y1="1584.62" x2="270.66" y2="1584.62" stroke="#333" stroke-width="2.0" />
<circle cx="259.66" cy="1544.66" r="8" fill="#111"/>
<circle cx="268.66" cy="1556.64" r="8" fill="#111"/>
<circle cx="254.66" cy="1570.17" r="8" fill="#111"/>
<circle cx="261.66" cy="1577.24" r="8" fill="#111"/>
<circle cx="269.66" cy="1595.99" r="8" fill="#111"/>
<circle cx="249.66" cy="1604.29" r="8" fill="#111"/>
<line x1="318.74" y1="1621.5" x2="318.74" y2="1628.5" stroke="#505050" stroke-width="1.6" />
<path d="M298.74 1621.5 V1584.62 H338.74 V1621.5" fill="none" stroke="#dc4a4a" stroke-width="2.2"/>
<line x1="318.74" y1="1590.76" x2="318.74" y2="1581.54" stroke="#333" stroke-width="2.0" />
<line x1="307.74" y1="1581.54" x2="329.74" y2="1581.54" stroke="#333" stroke-width="2.0" />
<line x1="307.74" y1="1590.76" x2="329.74" y2="1590.76" stroke="#333" stroke-width="2.0" />
<rect x="298.24" y="1561.13" width="15" height="15" fill="#ee2a24"/>
<rect x="322.24" y="1564.51" width="15" height="15" fill="#ee2a24"/>
<rect x="295.24" y="1579.88" width="15" height="15" fill="#ee2a24"/>
<rect x="311.24" y="1571.27" width="15" height="15" fill="#ee2a24"/>
<rect x="318.24" y="1579.88" width="15" height="15" fill="#ee2a24"/>
<rect x="311.24" y="1596.79" width="15" height="15" fill="#ee2a24"/>
<rect x="305.24" y="1574.04" width="15" height="15" fill="#ee2a24"/>
<rect x="315.24" y="1586.34" width="15" height="15" fill="#ee2a24"/>
<line x1="377.82" y1="1621.5" x2="377.82" y2="1628.5" stroke="#505050" stroke-width="1.6" />
<path d="M357.82 1621.5 V1536.05 H397.82 V1621.5" fill="none" stroke="#111" stroke-width="2.2"/>
<line x1="377.82" y1="1548.04" x2="377.82" y2="1524.06" stroke="#333" stroke-width="2.0" />
<line x1="366.82" y1="1524.06" x2="388.82" y2="1524.06" stroke="#333" stroke-width="2.0" />
<line x1="366.82" y1="1548.04" x2="388.82" y2="1548.04" stroke="#333" stroke-width="2.0" />
<circle cx="383.82" cy="1503.78" r="8" fill="#111"/>
<circle cx="371.82" cy="1510.54" r="8" fill="#111"/>
<circle cx="375.82" cy="1517.3" r="8" fill="#111"/>
<circle cx="370.82" cy="1554.8" r="8" fill="#111"/>
<circle cx="385.82" cy="1556.64" r="8" fill="#111"/>
<circle cx="377.82" cy="1568.63" r="8" fill="#111"/>
<line x1="436.9" y1="1621.5" x2="436.9" y2="1628.5" stroke="#505050" stroke-width="1.6" />
<path d="M416.9 1621.5 V1513.3 H456.9 V1621.5" fill="none" stroke="#dc4a4a" stroke-width="2.2"/>
<line x1="436.9" y1="1532.36" x2="436.9" y2="1495.17" stroke="#333" stroke-width="2.0" />
<line x1="425.9" y1="1495.17" x2="447.9" y2="1495.17" stroke="#333" stroke-width="2.0" />
<line x1="425.9" y1="1532.36" x2="447.9" y2="1532.36" stroke="#333" stroke-width="2.0" />
<rect x="421.4" y="1436.34" width="15" height="15" fill="#ee2a24"/>
<rect x="436.4" y="1441.56" width="15" height="15" fill="#ee2a24"/>
<rect x="429.4" y="1456.93" width="15" height="15" fill="#ee2a24"/>
<rect x="421.4" y="1525.17" width="15" height="15" fill="#ee2a24"/>
<rect x="416.4" y="1537.16" width="15" height="15" fill="#ee2a24"/>
<rect x="443.4" y="1537.16" width="15" height="15" fill="#ee2a24"/>
<rect x="428.4" y="1547.3" width="15" height="15" fill="#ee2a24"/>
<rect x="422.4" y="1554.37" width="15" height="15" fill="#ee2a24"/>
<line x1="625.6" y1="1374.8" x2="625.6" y2="1620" stroke="#505050" stroke-width="1.8" />
<line x1="617.6" y1="1620" x2="981" y2="1620" stroke="#505050" stroke-width="1.8" />
<line x1="618.6" y1="1620" x2="625.6" y2="1620" stroke="#505050" stroke-width="1.6" />
<text x="617.6" y="1627.5" font-size="21" text-anchor="end" fill="#222">0</text>
<line x1="618.6" y1="1558.7" x2="625.6" y2="1558.7" stroke="#505050" stroke-width="1.6" />
<text x="617.6" y="1566.2" font-size="21" text-anchor="end" fill="#222"><tspan>2</tspan><tspan dx="1">×</tspan><tspan dx="1">10</tspan><tspan font-size="14.3" dy="-7.5">4</tspan><tspan dy="7.5"></tspan></text>
<line x1="618.6" y1="1497.4" x2="625.6" y2="1497.4" stroke="#505050" stroke-width="1.6" />
<text x="617.6" y="1504.9" font-size="21" text-anchor="end" fill="#222"><tspan>4</tspan><tspan dx="1">×</tspan><tspan dx="1">10</tspan><tspan font-size="14.3" dy="-7.5">4</tspan><tspan dy="7.5"></tspan></text>
<line x1="618.6" y1="1436.1" x2="625.6" y2="1436.1" stroke="#505050" stroke-width="1.6" />
<text x="617.6" y="1443.6" font-size="21" text-anchor="end" fill="#222"><tspan>6</tspan><tspan dx="1">×</tspan><tspan dx="1">10</tspan><tspan font-size="14.3" dy="-7.5">4</tspan><tspan dy="7.5"></tspan></text>
<line x1="618.6" y1="1374.8" x2="625.6" y2="1374.8" stroke="#505050" stroke-width="1.6" />
<text x="617.6" y="1382.3" font-size="21" text-anchor="end" fill="#222"><tspan>8</tspan><tspan dx="1">×</tspan><tspan dx="1">10</tspan><tspan font-size="14.3" dy="-7.5">4</tspan><tspan dy="7.5"></tspan></text>
<line x1="655.3" y1="1620" x2="655.3" y2="1627" stroke="#505050" stroke-width="1.6" />
<path d="M635.3 1620 V1596.71 H675.3 V1620" fill="none" stroke="#111" stroke-width="2.2"/>
<line x1="655.3" y1="1604.67" x2="655.3" y2="1588.43" stroke="#333" stroke-width="2.0" />
<line x1="644.3" y1="1588.43" x2="666.3" y2="1588.43" stroke="#333" stroke-width="2.0" />
<line x1="644.3" y1="1604.67" x2="666.3" y2="1604.67" stroke="#333" stroke-width="2.0" />
<circle cx="656.7" cy="1559.01" r="8" fill="#111"/>
<circle cx="650.7" cy="1593.64" r="8" fill="#111"/>
<circle cx="660.7" cy="1597.32" r="8" fill="#111"/>
<circle cx="652.7" cy="1609.58" r="8" fill="#111"/>
<circle cx="655.7" cy="1614.79" r="8" fill="#111"/>
<circle cx="669.7" cy="1597.32" r="8" fill="#111"/>
<line x1="714.3" y1="1620" x2="714.3" y2="1627" stroke="#505050" stroke-width="1.6" />
<path d="M694.3 1620 V1603.14 H734.3 V1620" fill="none" stroke="#dc4a4a" stroke-width="2.2"/>
<rect x="712.2" y="1580.93" width="15" height="15" fill="#ee2a24"/>
<rect x="695.2" y="1591.35" width="15" height="15" fill="#ee2a24"/>
<rect x="705.2" y="1596.87" width="15" height="15" fill="#ee2a24"/>
<rect x="719.2" y="1593.19" width="15" height="15" fill="#ee2a24"/>
<rect x="698.2" y="1602.08" width="15" height="15" fill="#ee2a24"/>
<rect x="722.2" y="1597.17" width="15" height="15" fill="#ee2a24"/>
<line x1="773.3" y1="1620" x2="773.3" y2="1627" stroke="#505050" stroke-width="1.6" />
<path d="M753.3 1620 V1586.9 H793.3 V1620" fill="none" stroke="#111" stroke-width="2.2"/>
<line x1="773.3" y1="1595.48" x2="773.3" y2="1578.62" stroke="#333" stroke-width="2.0" />
<line x1="762.3" y1="1578.62" x2="784.3" y2="1578.62" stroke="#333" stroke-width="2.0" />
<line x1="762.3" y1="1595.48" x2="784.3" y2="1595.48" stroke="#333" stroke-width="2.0" />
<circle cx="773.7" cy="1553.8" r="8" fill="#111"/>
<circle cx="763.7" cy="1578.01" r="8" fill="#111"/>
<circle cx="784.7" cy="1581.69" r="8" fill="#111"/>
<circle cx="765.7" cy="1595.48" r="8" fill="#111"/>
<circle cx="780.7" cy="1598.85" r="8" fill="#111"/>
<circle cx="773.7" cy="1607.74" r="8" fill="#111"/>
<line x1="832.3" y1="1620" x2="832.3" y2="1627" stroke="#505050" stroke-width="1.6" />
<path d="M812.3 1620 V1593.95 H852.3 V1620" fill="none" stroke="#dc4a4a" stroke-width="2.2"/>
<line x1="832.3" y1="1598.55" x2="832.3" y2="1589.35" stroke="#333" stroke-width="2.0" />
<line x1="821.3" y1="1589.35" x2="843.3" y2="1589.35" stroke="#333" stroke-width="2.0" />
<line x1="821.3" y1="1598.55" x2="843.3" y2="1598.55" stroke="#333" stroke-width="2.0" />
<rect x="813.2" y="1567.14" width="15" height="15" fill="#ee2a24"/>
<rect x="844.2" y="1577.56" width="15" height="15" fill="#ee2a24"/>
<rect x="834.2" y="1584.61" width="15" height="15" fill="#ee2a24"/>
<rect x="808.2" y="1586.14" width="15" height="15" fill="#ee2a24"/>
<rect x="818.2" y="1596.87" width="15" height="15" fill="#ee2a24"/>
<rect x="830.2" y="1600.24" width="15" height="15" fill="#ee2a24"/>
<line x1="891.3" y1="1620" x2="891.3" y2="1627" stroke="#505050" stroke-width="1.6" />
<path d="M871.3 1620 V1511.81 H911.3 V1620" fill="none" stroke="#111" stroke-width="2.2"/>
<line x1="891.3" y1="1532.65" x2="891.3" y2="1488.51" stroke="#333" stroke-width="2.0" />
<line x1="880.3" y1="1488.51" x2="902.3" y2="1488.51" stroke="#333" stroke-width="2.0" />
<line x1="880.3" y1="1532.65" x2="902.3" y2="1532.65" stroke="#333" stroke-width="2.0" />
<circle cx="890.7" cy="1415.26" r="8" fill="#111"/>
<circle cx="900.7" cy="1503.22" r="8" fill="#111"/>
<circle cx="871.7" cy="1511.81" r="8" fill="#111"/>
<circle cx="881.7" cy="1522.23" r="8" fill="#111"/>
<circle cx="900.7" cy="1536.33" r="8" fill="#111"/>
<circle cx="890.7" cy="1578.01" r="8" fill="#111"/>
<line x1="950.3" y1="1620" x2="950.3" y2="1627" stroke="#505050" stroke-width="1.6" />
<path d="M930.3 1620 V1574.03 H970.3 V1620" fill="none" stroke="#dc4a4a" stroke-width="2.2"/>
<line x1="950.3" y1="1577.09" x2="950.3" y2="1569.43" stroke="#333" stroke-width="2.0" />
<line x1="939.3" y1="1569.43" x2="961.3" y2="1569.43" stroke="#333" stroke-width="2.0" />
<line x1="939.3" y1="1577.09" x2="961.3" y2="1577.09" stroke="#333" stroke-width="2.0" />
<rect x="932.2" y="1548.13" width="15" height="15" fill="#ee2a24"/>
<rect x="952.2" y="1553.04" width="15" height="15" fill="#ee2a24"/>
<rect x="946.2" y="1567.14" width="15" height="15" fill="#ee2a24"/>
<rect x="932.2" y="1568.98" width="15" height="15" fill="#ee2a24"/>
<rect x="954.2" y="1575.72" width="15" height="15" fill="#ee2a24"/>
<rect x="935.2" y="1582.77" width="15" height="15" fill="#ee2a24"/>
<rect x="949.2" y="1587.98" width="15" height="15" fill="#ee2a24"/>
<rect x="958.2" y="1563.46" width="15" height="15" fill="#ee2a24"/>
<line x1="890.6" y1="1398.8" x2="949.8" y2="1398.8" stroke="#222" stroke-width="2" />
<line x1="949.8" y1="1398.8" x2="949.8" y2="1510.2" stroke="#222" stroke-width="2" />
<text x="918.8" y="1404" font-size="30" text-anchor="middle" fill="#111">*</text>
<line x1="112.3" y1="1699" x2="112.3" y2="1943.2" stroke="#505050" stroke-width="1.8" />
<line x1="104.3" y1="1943.2" x2="466" y2="1943.2" stroke="#505050" stroke-width="1.8" />
<line x1="105.3" y1="1943.2" x2="112.3" y2="1943.2" stroke="#505050" stroke-width="1.6" />
<text x="104.3" y="1950.7" font-size="21" text-anchor="end" fill="#222">0</text>
<line x1="105.3" y1="1861.8" x2="112.3" y2="1861.8" stroke="#505050" stroke-width="1.6" />
<text x="104.3" y="1869.3" font-size="21" text-anchor="end" fill="#222">2</text>
<line x1="105.3" y1="1780.4" x2="112.3" y2="1780.4" stroke="#505050" stroke-width="1.6" />
<text x="104.3" y="1787.9" font-size="21" text-anchor="end" fill="#222">4</text>
<line x1="105.3" y1="1699" x2="112.3" y2="1699" stroke="#505050" stroke-width="1.6" />
<text x="104.3" y="1706.5" font-size="21" text-anchor="end" fill="#222">6</text>
<line x1="141.5" y1="1943.2" x2="141.5" y2="1950.2" stroke="#505050" stroke-width="1.6" />
<path d="M121.5 1943.2 V1912.67 H161.5 V1943.2" fill="none" stroke="#111" stroke-width="2.2"/>
<line x1="141.5" y1="1925.7" x2="141.5" y2="1899.65" stroke="#333" stroke-width="2.0" />
<line x1="130.5" y1="1899.65" x2="152.5" y2="1899.65" stroke="#333" stroke-width="2.0" />
<line x1="130.5" y1="1925.7" x2="152.5" y2="1925.7" stroke="#333" stroke-width="2.0" />
<circle cx="142.5" cy="1857.32" r="8" fill="#111"/>
<circle cx="131.5" cy="1901.69" r="8" fill="#111"/>
<circle cx="151.5" cy="1902.09" r="8" fill="#111"/>
<circle cx="129.5" cy="1934.65" r="8" fill="#111"/>
<circle cx="143.5" cy="1939.94" r="8" fill="#111"/>
<circle cx="150.5" cy="1939.94" r="8" fill="#111"/>
<line x1="200.58" y1="1943.2" x2="200.58" y2="1950.2" stroke="#505050" stroke-width="1.6" />
<path d="M180.58 1943.2 V1910.64 H220.58 V1943.2" fill="none" stroke="#dc4a4a" stroke-width="2.2"/>
<line x1="200.58" y1="1918.78" x2="200.58" y2="1905.76" stroke="#333" stroke-width="2.0" />
<line x1="189.58" y1="1905.76" x2="211.58" y2="1905.76" stroke="#333" stroke-width="2.0" />
<line x1="189.58" y1="1918.78" x2="211.58" y2="1918.78" stroke="#333" stroke-width="2.0" />
<rect x="192.08" y="1822.15" width="15" height="15" fill="#ee2a24"/>
<rect x="192.08" y="1889.71" width="15" height="15" fill="#ee2a24"/>
<rect x="179.08" y="1911.69" width="15" height="15" fill="#ee2a24"/>
<rect x="205.08" y="1911.69" width="15" height="15" fill="#ee2a24"/>
<rect x="188.08" y="1920.23" width="15" height="15" fill="#ee2a24"/>
<rect x="199.08" y="1917.38" width="15" height="15" fill="#ee2a24"/>
<rect x="193.08" y="1907.21" width="15" height="15" fill="#ee2a24"/>
<line x1="259.66" y1="1943.2" x2="259.66" y2="1950.2" stroke="#505050" stroke-width="1.6" />
<path d="M239.66 1943.2 V1893.55 H279.66 V1943.2" fill="none" stroke="#111" stroke-width="2.2"/>
<line x1="259.66" y1="1905.76" x2="259.66" y2="1880.93" stroke="#333" stroke-width="2.0" />
<line x1="248.66" y1="1880.93" x2="270.66" y2="1880.93" stroke="#333" stroke-width="2.0" />
<line x1="248.66" y1="1905.76" x2="270.66" y2="1905.76" stroke="#333" stroke-width="2.0" />
<circle cx="249.66" cy="1861.39" r="8" fill="#111"/>
<circle cx="260.66" cy="1854.47" r="8" fill="#111"/>
<circle cx="269.66" cy="1883.37" r="8" fill="#111"/>
<circle cx="246.66" cy="1914.3" r="8" fill="#111"/>
<circle cx="266.66" cy="1919.19" r="8" fill="#111"/>
<circle cx="259.66" cy="1927.73" r="8" fill="#111"/>
<line x1="318.74" y1="1943.2" x2="318.74" y2="1950.2" stroke="#505050" stroke-width="1.6" />
<path d="M298.74 1943.2 V1893.55 H338.74 V1943.2" fill="none" stroke="#dc4a4a" stroke-width="2.2"/>
<line x1="318.74" y1="1902.5" x2="318.74" y2="1886.22" stroke="#333" stroke-width="2.0" />
<line x1="307.74" y1="1886.22" x2="329.74" y2="1886.22" stroke="#333" stroke-width="2.0" />
<line x1="307.74" y1="1902.5" x2="329.74" y2="1902.5" stroke="#333" stroke-width="2.0" />
<rect x="301.24" y="1862.44" width="15" height="15" fill="#ee2a24"/>
<rect x="320.24" y="1858.78" width="15" height="15" fill="#ee2a24"/>
<rect x="317.24" y="1875.87" width="15" height="15" fill="#ee2a24"/>
<rect x="306.24" y="1884.42" width="15" height="15" fill="#ee2a24"/>
<rect x="315.24" y="1901.51" width="15" height="15" fill="#ee2a24"/>
<rect x="299.24" y="1895" width="15" height="15" fill="#ee2a24"/>
<rect x="311.24" y="1916.98" width="15" height="15" fill="#ee2a24"/>
<rect x="307.24" y="1890.93" width="15" height="15" fill="#ee2a24"/>
<line x1="377.82" y1="1943.2" x2="377.82" y2="1950.2" stroke="#505050" stroke-width="1.6" />
<path d="M357.82 1943.2 V1856.1 H397.82 V1943.2" fill="none" stroke="#111" stroke-width="2.2"/>
<line x1="377.82" y1="1871.57" x2="377.82" y2="1839.01" stroke="#333" stroke-width="2.0" />
<line x1="366.82" y1="1839.01" x2="388.82" y2="1839.01" stroke="#333" stroke-width="2.0" />
<line x1="366.82" y1="1871.57" x2="388.82" y2="1871.57" stroke="#333" stroke-width="2.0" />
<circle cx="365.82" cy="1811.74" r="8" fill="#111"/>
<circle cx="387.82" cy="1806.45" r="8" fill="#111"/>
<circle cx="368.82" cy="1863.02" r="8" fill="#111"/>
<circle cx="383.82" cy="1859.36" r="8" fill="#111"/>
<circle cx="377.82" cy="1878.08" r="8" fill="#111"/>
<circle cx="377.82" cy="1914.3" r="8" fill="#111"/>
<line x1="436.9" y1="1943.2" x2="436.9" y2="1950.2" stroke="#505050" stroke-width="1.6" />
<path d="M416.9 1943.2 V1814.18 H456.9 V1943.2" fill="none" stroke="#dc4a4a" stroke-width="2.2"/>
<line x1="436.9" y1="1830.46" x2="436.9" y2="1806.45" stroke="#333" stroke-width="2.0" />
<line x1="425.9" y1="1806.45" x2="447.9" y2="1806.45" stroke="#333" stroke-width="2.0" />
<line x1="425.9" y1="1830.46" x2="447.9" y2="1830.46" stroke="#333" stroke-width="2.0" />
<rect x="429.4" y="1732.61" width="15" height="15" fill="#ee2a24"/>
<rect x="438.4" y="1752.96" width="15" height="15" fill="#ee2a24"/>
<rect x="419.4" y="1764.35" width="15" height="15" fill="#ee2a24"/>
<rect x="429.4" y="1790.81" width="15" height="15" fill="#ee2a24"/>
<rect x="412.4" y="1846.97" width="15" height="15" fill="#ee2a24"/>
<rect x="439.4" y="1843.72" width="15" height="15" fill="#ee2a24"/>
<rect x="424.4" y="1860.4" width="15" height="15" fill="#ee2a24"/>
<rect x="434.4" y="1854.3" width="15" height="15" fill="#ee2a24"/>
<line x1="629.3" y1="1698.6" x2="629.3" y2="1944.8" stroke="#505050" stroke-width="1.8" />
<line x1="621.3" y1="1944.8" x2="981" y2="1944.8" stroke="#505050" stroke-width="1.8" />
<line x1="622.3" y1="1944.8" x2="629.3" y2="1944.8" stroke="#505050" stroke-width="1.6" />
<text x="621.3" y="1952.3" font-size="21" text-anchor="end" fill="#222">0</text>
<line x1="622.3" y1="1862.73" x2="629.3" y2="1862.73" stroke="#505050" stroke-width="1.6" />
<text x="621.3" y="1870.23" font-size="21" text-anchor="end" fill="#222"><tspan>2</tspan><tspan dx="1">×</tspan><tspan dx="1">10</tspan><tspan font-size="14.3" dy="-7.5">4</tspan><tspan dy="7.5"></tspan></text>
<line x1="622.3" y1="1780.67" x2="629.3" y2="1780.67" stroke="#505050" stroke-width="1.6" />
<text x="621.3" y="1788.17" font-size="21" text-anchor="end" fill="#222"><tspan>4</tspan><tspan dx="1">×</tspan><tspan dx="1">10</tspan><tspan font-size="14.3" dy="-7.5">4</tspan><tspan dy="7.5"></tspan></text>
<line x1="622.3" y1="1698.6" x2="629.3" y2="1698.6" stroke="#505050" stroke-width="1.6" />
<text x="621.3" y="1706.1" font-size="21" text-anchor="end" fill="#222"><tspan>6</tspan><tspan dx="1">×</tspan><tspan dx="1">10</tspan><tspan font-size="14.3" dy="-7.5">4</tspan><tspan dy="7.5"></tspan></text>
<line x1="658.8" y1="1944.8" x2="658.8" y2="1951.8" stroke="#505050" stroke-width="1.6" />
<path d="M638.8 1944.8 V1917.72 H678.8 V1944.8" fill="none" stroke="#111" stroke-width="2.2"/>
<line x1="658.8" y1="1932.49" x2="658.8" y2="1902.54" stroke="#333" stroke-width="2.0" />
<line x1="647.8" y1="1902.54" x2="669.8" y2="1902.54" stroke="#333" stroke-width="2.0" />
<line x1="647.8" y1="1932.49" x2="669.8" y2="1932.49" stroke="#333" stroke-width="2.0" />
<circle cx="658.8" cy="1848.78" r="8" fill="#111"/>
<circle cx="658.8" cy="1909.92" r="8" fill="#111"/>
<circle cx="670.8" cy="1923.87" r="8" fill="#111"/>
<circle cx="643.8" cy="1939.47" r="8" fill="#111"/>
<circle cx="653.8" cy="1941.52" r="8" fill="#111"/>
<circle cx="666.8" cy="1941.52" r="8" fill="#111"/>
<line x1="717.84" y1="1944.8" x2="717.84" y2="1951.8" stroke="#505050" stroke-width="1.6" />
<path d="M697.84 1944.8 V1925.51 H737.84 V1944.8" fill="none" stroke="#dc4a4a" stroke-width="2.2"/>
<rect x="698.34" y="1912.68" width="15" height="15" fill="#ee2a24"/>
<rect x="705.34" y="1920.89" width="15" height="15" fill="#ee2a24"/>
<rect x="710.34" y="1908.58" width="15" height="15" fill="#ee2a24"/>
<rect x="716.34" y="1916.78" width="15" height="15" fill="#ee2a24"/>
<rect x="722.34" y="1918.84" width="15" height="15" fill="#ee2a24"/>
<rect x="713.34" y="1924.99" width="15" height="15" fill="#ee2a24"/>
<rect x="702.34" y="1924.99" width="15" height="15" fill="#ee2a24"/>
<line x1="776.88" y1="1944.8" x2="776.88" y2="1951.8" stroke="#505050" stroke-width="1.6" />
<path d="M756.88 1944.8 V1909.92 H796.88 V1944.8" fill="none" stroke="#111" stroke-width="2.2"/>
<line x1="776.88" y1="1920.18" x2="776.88" y2="1900.48" stroke="#333" stroke-width="2.0" />
<line x1="765.88" y1="1900.48" x2="787.88" y2="1900.48" stroke="#333" stroke-width="2.0" />
<line x1="765.88" y1="1920.18" x2="787.88" y2="1920.18" stroke="#333" stroke-width="2.0" />
<circle cx="766.88" cy="1875.45" r="8" fill="#111"/>
<circle cx="787.88" cy="1887.76" r="8" fill="#111"/>
<circle cx="763.88" cy="1920.59" r="8" fill="#111"/>
<circle cx="787.88" cy="1916.49" r="8" fill="#111"/>
<circle cx="768.88" cy="1932.49" r="8" fill="#111"/>
<circle cx="780.88" cy="1930.85" r="8" fill="#111"/>
<line x1="835.92" y1="1944.8" x2="835.92" y2="1951.8" stroke="#505050" stroke-width="1.6" />
<path d="M815.92 1944.8 V1911.97 H855.92 V1944.8" fill="none" stroke="#dc4a4a" stroke-width="2.2"/>
<line x1="835.92" y1="1924.28" x2="835.92" y2="1901.71" stroke="#333" stroke-width="2.0" />
<line x1="824.92" y1="1901.71" x2="846.92" y2="1901.71" stroke="#333" stroke-width="2.0" />
<line x1="824.92" y1="1924.28" x2="846.92" y2="1924.28" stroke="#333" stroke-width="2.0" />
<rect x="827.42" y="1852.36" width="15" height="15" fill="#ee2a24"/>
<rect x="817.42" y="1878.21" width="15" height="15" fill="#ee2a24"/>
<rect x="838.42" y="1893.8" width="15" height="15" fill="#ee2a24"/>
<rect x="825.42" y="1911.04" width="15" height="15" fill="#ee2a24"/>
<rect x="831.42" y="1918.84" width="15" height="15" fill="#ee2a24"/>
<rect x="825.42" y="1930.32" width="15" height="15" fill="#ee2a24"/>
<rect x="834.42" y="1908.58" width="15" height="15" fill="#ee2a24"/>
<rect x="822.42" y="1922.94" width="15" height="15" fill="#ee2a24"/>
<rect x="830.42" y="1927.04" width="15" height="15" fill="#ee2a24"/>
<line x1="894.96" y1="1944.8" x2="894.96" y2="1951.8" stroke="#505050" stroke-width="1.6" />
<path d="M874.96 1944.8 V1858.22 H914.96 V1944.8" fill="none" stroke="#111" stroke-width="2.2"/>
<line x1="894.96" y1="1882.43" x2="894.96" y2="1830.32" stroke="#333" stroke-width="2.0" />
<line x1="883.96" y1="1830.32" x2="905.96" y2="1830.32" stroke="#333" stroke-width="2.0" />
<line x1="883.96" y1="1882.43" x2="905.96" y2="1882.43" stroke="#333" stroke-width="2.0" />
<circle cx="896.96" cy="1747.02" r="8" fill="#111"/>
<circle cx="895.96" cy="1824.57" r="8" fill="#111"/>
<circle cx="893.96" cy="1858.22" r="8" fill="#111"/>
<circle cx="893.96" cy="1882.43" r="8" fill="#111"/>
<circle cx="905.96" cy="1903.77" r="8" fill="#111"/>
<circle cx="883.96" cy="1923.46" r="8" fill="#111"/>
<line x1="954" y1="1944.8" x2="954" y2="1951.8" stroke="#505050" stroke-width="1.6" />
<path d="M934 1944.8 V1842.63 H974 V1944.8" fill="none" stroke="#dc4a4a" stroke-width="2.2"/>
<line x1="954" y1="1865.61" x2="954" y2="1818.01" stroke="#333" stroke-width="2.0" />
<line x1="943" y1="1818.01" x2="965" y2="1818.01" stroke="#333" stroke-width="2.0" />
<line x1="943" y1="1865.61" x2="965" y2="1865.61" stroke="#333" stroke-width="2.0" />
<rect x="937.5" y="1737.88" width="15" height="15" fill="#ee2a24"/>
<rect x="956.5" y="1760.45" width="15" height="15" fill="#ee2a24"/>
<rect x="937.5" y="1798.61" width="15" height="15" fill="#ee2a24"/>
<rect x="956.5" y="1796.97" width="15" height="15" fill="#ee2a24"/>
<rect x="945.5" y="1871.24" width="15" height="15" fill="#ee2a24"/>
<rect x="935.5" y="1899.96" width="15" height="15" fill="#ee2a24"/>
<rect x="952.5" y="1902.42" width="15" height="15" fill="#ee2a24"/>
<rect x="944.5" y="1906.11" width="15" height="15" fill="#ee2a24"/>
<text x="56.4" y="977.6" font-size="25" fill="#111" textLength="254.6" lengthAdjust="spacingAndGlyphs" transform="translate(56.4 977.6) scale(1.1 1) rotate(-90) translate(-56.4 -977.6)"><tspan font-size="25" dy="0">IFN</tspan><tspan font-size="19" dy="4">γ</tspan><tspan font-size="25" dy="-4"> </tspan><tspan font-size="20" dy="-13">+</tspan><tspan font-size="25" dy="13"> CD4</tspan><tspan font-size="20" dy="-13">+</tspan><tspan font-size="25" dy="13"> T cells (%)</tspan></text>
<text x="526" y="975" font-size="25" fill="#111" textLength="237" lengthAdjust="spacingAndGlyphs" transform="translate(526 975) scale(1.1 1) rotate(-90) translate(-526 -975)"><tspan font-size="25" dy="0">IFN-γ</tspan><tspan font-size="20" dy="-13">+</tspan><tspan font-size="25" dy="13"> CD4</tspan><tspan font-size="20" dy="-13">+</tspan><tspan font-size="25" dy="13"> T cells (#)</tspan></text>
<text x="56.4" y="1296.2" font-size="25" fill="#111" textLength="245.2" lengthAdjust="spacingAndGlyphs" transform="translate(56.4 1296.2) scale(1.1 1) rotate(-90) translate(-56.4 -1296.2)"><tspan font-size="25" dy="0">TNF</tspan><tspan font-size="20" dy="-13">+</tspan><tspan font-size="25" dy="13"> CD4</tspan><tspan font-size="20" dy="-13">+</tspan><tspan font-size="25" dy="13"> T cells (%)</tspan></text>
<text x="526" y="1285" font-size="25" fill="#111" textLength="234.4" lengthAdjust="spacingAndGlyphs" transform="translate(526 1285) scale(1.1 1) rotate(-90) translate(-526 -1285)"><tspan font-size="25" dy="0">TNF</tspan><tspan font-size="20" dy="-13">+</tspan><tspan font-size="25" dy="13"> CD4</tspan><tspan font-size="20" dy="-13">+</tspan><tspan font-size="25" dy="13"> T cells (#)</tspan></text>
<text x="59" y="1625.8" font-size="25" fill="#111" textLength="263.8" lengthAdjust="spacingAndGlyphs" transform="translate(59 1625.8) scale(1.1 1) rotate(-90) translate(-59 -1625.8)"><tspan font-size="25" dy="0">IL-17A</tspan><tspan font-size="20" dy="-13">+</tspan><tspan font-size="25" dy="13"> CD4</tspan><tspan font-size="20" dy="-13">+</tspan><tspan font-size="25" dy="13"> T cells (%)</tspan></text>
<text x="528.5" y="1631" font-size="25" fill="#111" textLength="259" lengthAdjust="spacingAndGlyphs" transform="translate(528.5 1631) scale(1.1 1) rotate(-90) translate(-528.5 -1631)"><tspan font-size="25" dy="0">IL-17A</tspan><tspan font-size="20" dy="-13">+</tspan><tspan font-size="25" dy="13"> CD4</tspan><tspan font-size="20" dy="-13">+</tspan><tspan font-size="25" dy="13"> T cells (#)</tspan></text>
<text x="62" y="1945.5" font-size="25" fill="#111" textLength="255.5" lengthAdjust="spacingAndGlyphs" transform="translate(62 1945.5) scale(1.1 1) rotate(-90) translate(-62 -1945.5)"><tspan font-size="25" dy="0">IL-10</tspan><tspan font-size="20" dy="-13">+</tspan><tspan font-size="25" dy="13"> CD4</tspan><tspan font-size="20" dy="-13">+</tspan><tspan font-size="25" dy="13"> T cells (%)</tspan></text>
<text x="527.5" y="1939.7" font-size="25" fill="#111" textLength="234.9" lengthAdjust="spacingAndGlyphs" transform="translate(527.5 1939.7) scale(1.1 1) rotate(-90) translate(-527.5 -1939.7)"><tspan font-size="25" dy="0">IL-10</tspan><tspan font-size="20" dy="-13">+</tspan><tspan font-size="25" dy="13"> CD4</tspan><tspan font-size="20" dy="-13">+</tspan><tspan font-size="25" dy="13"> T cells (#)</tspan></text>
<text x="145" y="1965.7" font-size="27.5" text-anchor="end" fill="#111" transform="rotate(-45 145 1965.7)">WT Media</text>
<text x="204.08" y="1965.7" font-size="27.5" text-anchor="end" fill="#111" transform="rotate(-45 204.08 1965.7)"><tspan font-size="27.5" dy="0" font-style="italic">Ifnlr1</tspan><tspan font-size="16" dy="-11" font-style="italic">-/-</tspan><tspan font-size="27.5" dy="11"> Media</tspan></text>
<text x="263.16" y="1965.7" font-size="27.5" text-anchor="end" fill="#111" transform="rotate(-45 263.16 1965.7)"><tspan font-size="27.5" dy="0">WT NP</tspan><tspan font-size="19" dy="9" dx="-1.5">311</tspan></text>
<text x="322.24" y="1965.7" font-size="27.5" text-anchor="end" fill="#111" transform="rotate(-45 322.24 1965.7)"><tspan font-size="27.5" dy="0" font-style="italic">Ifnlr1</tspan><tspan font-size="16" dy="-11" font-style="italic">-/-</tspan><tspan font-size="27.5" dy="11"> NP</tspan><tspan font-size="19" dy="9" dx="-1.5">311</tspan></text>
<text x="381.32" y="1965.7" font-size="27.5" text-anchor="end" fill="#111" transform="rotate(-45 381.32 1965.7)">WT PMAI</text>
<text x="440.4" y="1965.7" font-size="27.5" text-anchor="end" fill="#111" transform="rotate(-45 440.4 1965.7)"><tspan font-size="27.5" dy="0" font-style="italic">Ifnlr1</tspan><tspan font-size="16" dy="-11" font-style="italic">-/-</tspan><tspan font-size="27.5" dy="11"> PMAI</tspan></text>
<text x="662.3" y="1967.7" font-size="27.5" text-anchor="end" fill="#111" transform="rotate(-45 662.3 1967.7)">WT Media</text>
<text x="721.34" y="1967.7" font-size="27.5" text-anchor="end" fill="#111" transform="rotate(-45 721.34 1967.7)"><tspan font-size="27.5" dy="0" font-style="italic">Ifnlr1</tspan><tspan font-size="16" dy="-11" font-style="italic">-/-</tspan><tspan font-size="27.5" dy="11"> Media</tspan></text>
<text x="780.38" y="1967.7" font-size="27.5" text-anchor="end" fill="#111" transform="rotate(-45 780.38 1967.7)"><tspan font-size="27.5" dy="0">WT NP</tspan><tspan font-size="19" dy="9" dx="-1.5">311</tspan></text>
<text x="839.42" y="1967.7" font-size="27.5" text-anchor="end" fill="#111" transform="rotate(-45 839.42 1967.7)"><tspan font-size="27.5" dy="0" font-style="italic">Ifnlr1</tspan><tspan font-size="16" dy="-11" font-style="italic">-/-</tspan><tspan font-size="27.5" dy="11"> NP</tspan><tspan font-size="19" dy="9" dx="-1.5">311</tspan></text>
<text x="898.46" y="1967.7" font-size="27.5" text-anchor="end" fill="#111" transform="rotate(-45 898.46 1967.7)">WT PMAI</text>
<text x="957.5" y="1967.7" font-size="27.5" text-anchor="end" fill="#111" transform="rotate(-45 957.5 1967.7)"><tspan font-size="27.5" dy="0" font-style="italic">Ifnlr1</tspan><tspan font-size="16" dy="-11" font-style="italic">-/-</tspan><tspan font-size="27.5" dy="11"> PMAI</tspan></text>
<text x="1" y="26" font-size="40" text-anchor="start" font-weight="bold" font-style="normal" fill="#111">a.</text>
<text x="2.5" y="347.8" font-size="38.5" text-anchor="start" font-weight="bold" font-style="normal" fill="#111">b.</text>
<text x="1.5" y="696.3" font-size="39" text-anchor="start" font-weight="bold" font-style="normal" fill="#111">c.</text>
<text x="152.5" y="44" font-size="32" text-anchor="start" font-weight="normal" font-style="normal" fill="#111">WT</text>
<line x1="152.7" y1="49" x2="197.8" y2="49" stroke="#111" stroke-width="2.6" />
<line x1="80" y1="61.5" x2="80" y2="250.5" stroke="#666" stroke-width="1.5" />
<line x1="80" y1="250.5" x2="292" y2="250.5" stroke="#666" stroke-width="1.5" />
<line x1="77" y1="76" x2="80" y2="76" stroke="#666" stroke-width="1" />
<line x1="77" y1="120" x2="80" y2="120" stroke="#666" stroke-width="1" />
<line x1="77" y1="172" x2="80" y2="172" stroke="#666" stroke-width="1" />
<line x1="77" y1="207" x2="80" y2="207" stroke="#666" stroke-width="1" />
<line x1="77" y1="232" x2="80" y2="232" stroke="#666" stroke-width="1" />
<line x1="115" y1="250.5" x2="115" y2="253.5" stroke="#666" stroke-width="1" />
<line x1="177" y1="250.5" x2="177" y2="253.5" stroke="#666" stroke-width="1" />
<line x1="229" y1="250.5" x2="229" y2="253.5" stroke="#666" stroke-width="1" />
<line x1="277" y1="250.5" x2="277" y2="253.5" stroke="#666" stroke-width="1" />
<text x="78" y="84" font-size="21" text-anchor="end" fill="#222"><tspan font-size="21" dy="0">10</tspan><tspan font-size="14.280000000000001" dy="-8">5</tspan><tspan font-size="21" dy="8"></tspan></text>
<text x="78" y="129" font-size="21" text-anchor="end" fill="#222"><tspan font-size="21" dy="0">10</tspan><tspan font-size="14.280000000000001" dy="-8">4</tspan><tspan font-size="21" dy="8"></tspan></text>
<text x="78" y="181" font-size="21" text-anchor="end" fill="#222"><tspan font-size="21" dy="0">10</tspan><tspan font-size="14.280000000000001" dy="-8">3</tspan><tspan font-size="21" dy="8"></tspan></text>
<text x="78" y="214" font-size="21" text-anchor="end" fill="#222">0</text>
<text x="78" y="244" font-size="21" text-anchor="end" fill="#222"><tspan font-size="21" dy="0">-10</tspan><tspan font-size="14.280000000000001" dy="-8">3</tspan><tspan font-size="21" dy="8"></tspan></text>
<text x="115" y="271" font-size="21" text-anchor="middle" fill="#222">0</text>
<text x="186" y="271" font-size="21" text-anchor="end" fill="#222"><tspan font-size="21" dy="0">10</tspan><tspan font-size="14.280000000000001" dy="-8">3</tspan><tspan font-size="21" dy="8"></tspan></text>
<text x="237" y="271" font-size="21" text-anchor="end" fill="#222"><tspan font-size="21" dy="0">10</tspan><tspan font-size="14.280000000000001" dy="-8">4</tspan><tspan font-size="21" dy="8"></tspan></text>
<text x="286" y="271" font-size="21" text-anchor="end" fill="#222"><tspan font-size="21" dy="0">10</tspan><tspan font-size="14.280000000000001" dy="-8">5</tspan><tspan font-size="21" dy="8"></tspan></text>
<text x="31" y="238" font-size="25.5" fill="#111" textLength="165.5" lengthAdjust="spacingAndGlyphs" transform="rotate(-90 31 238)"><tspan font-size="25.5" dy="0">NP</tspan><tspan font-size="14" dy="1">311</tspan><tspan font-size="25.5" dy="-1"> Tetramer</tspan></text>
<text x="84" y="297" font-size="26.5" text-anchor="start" font-weight="normal" font-style="normal" fill="#111">CD3ε-PE</text>
<text x="86" y="93" font-size="26" text-anchor="start" font-weight="normal" font-style="normal" fill="#111">7.36</text>
<path d="M171.5 203.0C171.5 199.8 175.3 195.7 178.1 193.6C180.9 191.5 185.8 192.0 188.5 190.5C191.2 189.0 190.2 185.5 194.5 184.5C198.8 183.5 210.2 183.5 214.5 184.5C218.8 185.5 217.8 189.0 220.5 190.5C223.2 192.0 228.1 191.5 230.9 193.6C233.7 195.7 237.5 199.8 237.5 203.0C237.5 206.2 236.4 210.9 230.9 213.0C225.4 215.1 213.3 215.5 204.5 215.5C195.7 215.5 183.6 215.1 178.1 213.0C172.6 210.9 171.5 206.2 171.5 203.0Z" fill="none" stroke="#666" stroke-width="1.0"/>
<ellipse cx="205.49" cy="203.5" rx="28.05" ry="10.09" fill="none" stroke="#666" stroke-width="0.9" opacity="1"/>
<ellipse cx="205.49" cy="203.5" rx="23.76" ry="8.55" fill="none" stroke="#666" stroke-width="0.9" opacity="1"/>
<ellipse cx="206.15" cy="203.8" rx="20.46" ry="6.98" fill="none" stroke="#444" stroke-width="0.8" opacity="1"/>
<ellipse cx="206.15" cy="203.8" rx="18.48" ry="6.3" fill="none" stroke="#444" stroke-width="0.8" opacity="1"/>
<ellipse cx="206.48" cy="204" rx="16.5" ry="5.62" fill="#1a1a1a"/>
<line x1="193.28" y1="200.62" x2="219.68" y2="200.62" stroke="#888" stroke-width="0.7" />
<line x1="193.28" y1="202.88" x2="219.68" y2="202.88" stroke="#888" stroke-width="0.7" />
<line x1="193.28" y1="205.12" x2="219.68" y2="205.12" stroke="#888" stroke-width="0.7" />
<line x1="193.28" y1="207.38" x2="219.68" y2="207.38" stroke="#888" stroke-width="0.7" />
<path d="M168.5 146.5h.1M183.2 146.7h.1M171.4 167.1h.1M220.5 125.3h.1M215.2 172.6h.1M202.9 133.3h.1M191.5 181.3h.1M203.4 167.2h.1M174.8 148.0h.1M194.9 141.7h.1M198.0 133.6h.1M233.2 111.1h.1M206.1 131.2h.1M236.6 160.5h.1M216.8 150.2h.1M213.7 113.7h.1M224.5 164.4h.1M210.6 112.6h.1M211.4 134.4h.1M170.6 178.4h.1M218.4 127.6h.1M241.6 174.8h.1M180.0 167.2h.1M201.8 166.0h.1M221.3 135.6h.1M196.2 169.1h.1M202.6 126.8h.1M169.4 167.1h.1M246.5 137.4h.1M201.5 167.7h.1M202.9 157.1h.1M186.0 174.2h.1M196.8 138.6h.1M199.7 113.9h.1M215.1 120.5h.1M216.4 115.9h.1M199.6 163.3h.1M247.1 165.4h.1M202.4 137.6h.1M218.8 178.9h.1M209.0 133.3h.1M206.1 138.7h.1M219.6 129.9h.1M222.0 138.7h.1M216.7 159.6h.1M197.0 182.8h.1M211.7 178.5h.1M219.0 140.5h.1M229.4 117.8h.1M203.2 130.9h.1M213.1 130.6h.1M184.6 135.3h.1M213.0 157.3h.1M205.2 138.0h.1M203.6 125.7h.1M202.7 118.4h.1M220.9 116.3h.1M222.5 123.2h.1M194.0 137.2h.1M228.7 138.0h.1M225.8 109.8h.1M203.6 150.3h.1M210.7 148.0h.1M229.0 127.8h.1M210.6 148.0h.1M177.9 142.4h.1M222.1 162.0h.1M212.5 133.1h.1M206.2 115.8h.1M204.7 120.0h.1M166.7 167.3h.1M221.0 115.6h.1M205.1 139.4h.1M225.1 142.2h.1M221.2 129.6h.1M185.4 168.8h.1M177.0 166.1h.1M194.0 147.5h.1M209.9 112.3h.1M205.8 179.5h.1M199.2 129.6h.1M218.3 124.8h.1M240.6 148.0h.1M208.1 163.6h.1M188.7 136.2h.1M223.0 130.3h.1M215.1 133.4h.1M228.5 167.8h.1M215.2 130.9h.1M197.6 153.6h.1M209.6 135.1h.1M216.0 124.3h.1M212.1 114.6h.1M178.8 145.3h.1M169.7 151.8h.1M225.0 123.7h.1M216.3 136.4h.1M199.0 121.0h.1M195.9 111.9h.1M238.7 155.6h.1M224.0 155.9h.1M210.4 139.2h.1M203.9 179.6h.1M216.9 125.3h.1M216.0 125.6h.1M202.3 140.4h.1M226.0 130.9h.1M219.9 114.8h.1M201.0 144.9h.1M180.2 134.5h.1M202.2 141.6h.1M218.8 120.5h.1M226.6 120.4h.1M214.6 141.2h.1M204.3 144.0h.1M203.1 112.8h.1M197.6 123.4h.1M226.6 132.1h.1M247.3 149.5h.1M193.5 161.0h.1M222.5 146.1h.1M202.4 146.9h.1M216.4 136.0h.1M219.8 125.6h.1M196.3 162.8h.1M198.7 154.1h.1M222.5 129.9h.1M212.5 164.0h.1M193.1 149.9h.1M214.1 143.2h.1M197.0 134.0h.1M193.8 118.8h.1M201.5 160.9h.1M208.8 118.5h.1M220.9 121.3h.1M218.3 119.2h.1M210.1 129.7h.1M192.5 123.2h.1M172.9 173.1h.1M212.1 183.3h.1M218.4 116.6h.1M208.6 142.3h.1M212.1 132.3h.1M231.3 173.9h.1M198.9 143.0h.1M215.4 170.0h.1M217.9 111.3h.1M227.4 176.6h.1M204.0 127.9h.1M186.6 144.2h.1M185.3 178.8h.1M167.6 168.2h.1M210.0 151.9h.1M243.9 143.9h.1M204.3 121.1h.1M192.0 136.7h.1M238.8 143.8h.1M234.0 160.4h.1M216.5 124.2h.1M225.6 116.2h.1M212.3 124.8h.1M222.1 129.8h.1M223.8 146.7h.1M201.4 134.1h.1M208.4 113.4h.1M192.9 132.7h.1M233.5 152.2h.1M213.1 126.5h.1M169.2 179.0h.1M198.5 162.1h.1M196.0 166.9h.1M226.5 161.2h.1M229.6 143.5h.1M202.1 109.2h.1M167.7 174.4h.1M214.2 178.2h.1M217.3 147.9h.1M244.4 138.1h.1M181.6 149.6h.1M199.3 156.0h.1M202.8 142.6h.1M220.1 159.0h.1M224.1 180.9h.1M231.4 150.7h.1M222.8 175.2h.1M220.3 145.8h.1M233.1 141.9h.1M239.8 146.3h.1M225.5 138.7h.1M208.6 148.0h.1M220.9 143.6h.1M198.6 133.3h.1M184.1 140.0h.1M249.8 142.2h.1M211.1 129.2h.1M216.1 115.9h.1M201.5 156.6h.1M188.9 138.8h.1M214.6 128.3h.1M232.0 110.8h.1M219.3 179.5h.1M200.3 149.2h.1M214.5 141.8h.1M190.1 131.7h.1M192.5 153.5h.1M204.1 152.6h.1M233.8 177.9h.1M210.4 134.9h.1M204.8 152.4h.1M172.4 149.9h.1M173.2 156.0h.1M203.4 116.8h.1M208.6 173.8h.1M175.8 174.7h.1M202.3 134.2h.1M209.6 178.1h.1M188.5 177.7h.1M208.4 132.0h.1M202.7 153.0h.1M194.3 170.6h.1M236.0 115.1h.1M211.8 147.5h.1M166.7 159.4h.1M212.8 119.3h.1M192.9 155.0h.1M214.3 154.1h.1M187.6 123.6h.1M220.7 142.3h.1M212.0 119.1h.1M186.3 142.8h.1M202.6 111.0h.1M159.6 176.2h.1M236.1 176.5h.1M226.7 118.7h.1M201.6 168.3h.1M210.7 165.2h.1M209.4 141.4h.1M234.5 155.4h.1M180.2 144.3h.1M222.9 129.4h.1M199.5 119.8h.1M225.0 121.0h.1M205.2 112.3h.1M215.1 128.6h.1M225.0 151.9h.1M209.5 112.2h.1M186.9 166.3h.1M222.0 113.4h.1M177.5 170.7h.1M226.1 168.3h.1M212.3 138.4h.1M208.6 174.2h.1M197.9 161.4h.1M210.7 165.4h.1M203.8 166.9h.1M216.0 139.5h.1M239.9 159.4h.1M157.6 154.5h.1M208.3 146.1h.1M216.7 113.0h.1M194.3 142.4h.1M209.8 110.7h.1M175.8 182.0h.1M207.4 122.3h.1M213.8 170.5h.1M221.6 160.3h.1M221.4 135.0h.1M224.9 144.1h.1M221.8 180.2h.1M220.4 123.2h.1M223.6 130.6h.1M230.0 146.0h.1M205.2 122.8h.1M213.5 149.9h.1M215.8 124.2h.1M225.5 145.0h.1M201.9 158.4h.1M173.0 158.7h.1M202.0 153.7h.1M157.7 152.8h.1M210.7 121.9h.1M202.3 152.0h.1M206.1 140.0h.1M216.0 110.6h.1M205.2 137.9h.1M203.5 143.0h.1M198.7 151.0h.1M201.0 164.8h.1M197.3 113.6h.1M209.3 155.7h.1M231.4 171.9h.1M216.4 131.6h.1M207.4 121.3h.1M209.9 164.7h.1M244.4 152.4h.1M179.8 149.4h.1M213.6 139.7h.1M206.6 166.5h.1M210.8 161.0h.1M201.9 170.0h.1M226.0 157.8h.1M206.1 147.3h.1M219.1 161.1h.1M205.6 173.3h.1M218.1 166.6h.1M197.9 158.9h.1M217.0 146.5h.1M219.4 175.7h.1M220.3 152.1h.1M206.3 170.4h.1M220.0 173.5h.1M221.6 158.9h.1M208.7 139.6h.1M218.3 185.0h.1M208.3 154.8h.1M217.2 164.1h.1M201.0 152.1h.1M203.2 182.2h.1M206.3 169.4h.1M227.3 180.8h.1M223.4 177.9h.1M202.1 156.2h.1M206.2 156.8h.1M233.0 141.5h.1M216.5 146.4h.1M222.7 174.3h.1M207.9 182.8h.1M212.6 174.3h.1M214.5 153.8h.1M209.0 158.7h.1M216.9 161.4h.1M230.9 157.9h.1M208.3 152.1h.1M205.8 144.2h.1M204.1 170.0h.1M212.5 158.1h.1M214.8 171.7h.1M216.9 168.5h.1M207.5 157.1h.1M205.8 158.9h.1M205.5 155.9h.1M210.6 157.6h.1M209.9 154.6h.1M222.5 156.2h.1M203.9 162.1h.1M203.3 148.2h.1M212.7 141.7h.1M186.2 163.2h.1M220.3 141.6h.1M204.8 166.3h.1M196.1 150.4h.1M202.4 157.8h.1M196.2 169.8h.1M210.8 163.3h.1M209.4 136.7h.1M210.8 145.3h.1M212.1 150.6h.1M209.5 157.7h.1M218.2 168.4h.1M204.0 159.8h.1M223.7 165.4h.1M206.2 158.7h.1M209.2 170.4h.1M212.3 164.1h.1M229.7 144.8h.1M203.9 140.9h.1M199.3 169.4h.1M214.3 177.9h.1M196.2 150.3h.1M223.6 171.3h.1M219.1 169.6h.1M212.3 159.9h.1M212.3 169.3h.1M210.7 163.5h.1M223.6 147.6h.1M206.0 166.2h.1M209.9 158.3h.1M228.8 164.6h.1M208.7 172.1h.1M232.1 147.8h.1M206.6 161.3h.1M216.2 155.6h.1M215.9 151.2h.1M207.2 161.2h.1M231.1 135.2h.1M246.5 186.7h.1M183.6 179.4h.1M180.5 184.4h.1M230.0 188.8h.1M238.5 190.4h.1M161.9 197.8h.1M159.2 205.7h.1M168.9 191.5h.1M153.8 194.5h.1M162.3 199.4h.1M214.5 182.9h.1M170.2 188.7h.1M156.6 188.7h.1M234.3 195.9h.1M211.2 138.9h.1M231.2 111.4h.1M173.2 118.0h.1M163.8 118.3h.1M215.9 137.3h.1M183.8 143.0h.1M168.0 163.9h.1M175.4 112.9h.1" stroke="#333" stroke-width="1.15" stroke-linecap="square" opacity="0.6" fill="none"/>
<rect x="145.8" y="79.5" width="108" height="103.4" fill="none" stroke="#666" stroke-width="1.8"/>
<text x="390.5" y="47" font-size="32" font-style="italic" fill="#111">Ifnlr1-/-</text>
<line x1="383" y1="49" x2="500.4" y2="49" stroke="#111" stroke-width="2.6" />
<rect x="333.6" y="59" width="203.6" height="192.7" fill="none" stroke="#777" stroke-width="1.3"/>
<line x1="333.6" y1="76" x2="336.5" y2="76" stroke="#666" stroke-width="1" />
<line x1="333.6" y1="120" x2="336.5" y2="120" stroke="#666" stroke-width="1" />
<line x1="333.6" y1="172" x2="336.5" y2="172" stroke="#666" stroke-width="1" />
<line x1="333.6" y1="207" x2="336.5" y2="207" stroke="#666" stroke-width="1" />
<line x1="333.6" y1="232" x2="336.5" y2="232" stroke="#666" stroke-width="1" />
<line x1="333.6" y1="200" x2="333.6" y2="212" stroke="#222" stroke-width="2.5" />
<text x="340" y="94" font-size="26" text-anchor="start" font-weight="normal" font-style="normal" fill="#111">6.29</text>
<path d="M423.5 205.0C423.5 202.4 427.1 199.2 429.2 197.5C431.3 195.8 433.9 197.1 436.0 195.0C438.1 192.9 437.7 186.7 442.0 185.0C446.3 183.3 457.7 183.3 462.0 185.0C466.3 186.7 465.9 192.9 468.0 195.0C470.1 197.1 472.7 195.8 474.8 197.5C476.9 199.2 480.5 202.4 480.5 205.0C480.5 207.6 479.6 211.3 474.8 213.0C470.1 214.7 459.6 215.0 452.0 215.0C444.4 215.0 433.9 214.7 429.2 213.0C424.4 211.3 423.5 207.6 423.5 205.0Z" fill="none" stroke="#666" stroke-width="1.0"/>
<ellipse cx="452.86" cy="205.5" rx="24.22" ry="8.07" fill="none" stroke="#666" stroke-width="0.9" opacity="1"/>
<ellipse cx="452.86" cy="205.5" rx="20.52" ry="6.84" fill="none" stroke="#666" stroke-width="0.9" opacity="1"/>
<ellipse cx="453.43" cy="205.8" rx="17.67" ry="5.58" fill="none" stroke="#444" stroke-width="0.8" opacity="1"/>
<ellipse cx="453.43" cy="205.8" rx="15.96" ry="5.04" fill="none" stroke="#444" stroke-width="0.8" opacity="1"/>
<ellipse cx="453.71" cy="206" rx="14.25" ry="4.5" fill="#1a1a1a"/>
<line x1="442.31" y1="203.3" x2="465.11" y2="203.3" stroke="#888" stroke-width="0.7" />
<line x1="442.31" y1="205.1" x2="465.11" y2="205.1" stroke="#888" stroke-width="0.7" />
<line x1="442.31" y1="206.9" x2="465.11" y2="206.9" stroke="#888" stroke-width="0.7" />
<line x1="442.31" y1="208.7" x2="465.11" y2="208.7" stroke="#888" stroke-width="0.7" />
<path d="M430.5 167.7h.1M468.2 121.4h.1M462.8 158.1h.1M399.7 179.8h.1M463.5 106.4h.1M464.9 124.4h.1M463.2 113.8h.1M441.3 159.7h.1M495.5 180.2h.1M455.1 126.1h.1M453.1 141.1h.1M448.1 110.4h.1M453.4 105.2h.1M446.2 150.7h.1M434.5 153.1h.1M467.8 135.2h.1M462.4 150.7h.1M457.0 122.6h.1M434.0 168.2h.1M455.1 168.6h.1M460.5 128.6h.1M480.9 153.8h.1M449.6 154.6h.1M446.6 170.1h.1M453.2 108.9h.1M480.4 157.4h.1M453.8 152.2h.1M466.2 111.5h.1M490.0 154.2h.1M453.6 155.5h.1M431.2 179.3h.1M469.5 181.4h.1M435.9 181.9h.1M471.6 141.8h.1M443.8 160.2h.1M454.3 172.5h.1M440.2 127.5h.1M456.5 115.8h.1M451.5 156.2h.1M422.0 179.6h.1M466.3 118.9h.1M463.4 129.5h.1M432.5 125.3h.1M456.6 116.5h.1M423.2 176.6h.1M429.0 179.1h.1M449.3 144.6h.1M437.6 151.3h.1M453.5 131.1h.1M438.5 156.4h.1M445.2 135.2h.1M469.5 127.9h.1M471.4 154.8h.1M410.3 178.7h.1M444.0 147.0h.1M412.7 183.7h.1M450.0 140.5h.1M413.9 168.7h.1M445.5 109.1h.1M457.8 106.5h.1M436.9 134.8h.1M473.2 158.5h.1M455.6 152.6h.1M425.4 172.2h.1M462.9 154.4h.1M453.9 170.0h.1M480.2 164.5h.1M452.3 153.6h.1M429.7 131.0h.1M476.3 135.3h.1M422.6 159.2h.1M442.2 156.0h.1M483.4 128.1h.1M426.5 169.2h.1M441.5 139.4h.1M442.6 123.6h.1M442.3 164.1h.1M456.6 142.8h.1M482.3 179.0h.1M403.8 174.9h.1M472.6 147.6h.1M464.5 114.7h.1M457.3 141.5h.1M453.2 128.8h.1M430.3 159.4h.1M463.1 114.7h.1M442.8 147.8h.1M456.8 116.6h.1M442.6 152.3h.1M482.6 168.6h.1M461.8 108.5h.1M432.7 129.7h.1M444.2 178.4h.1M437.1 182.0h.1M463.2 105.4h.1M415.6 180.4h.1M435.8 156.0h.1M451.6 118.2h.1M457.4 130.0h.1M441.0 150.5h.1M459.7 120.5h.1M466.8 174.1h.1M464.4 145.3h.1M432.6 181.1h.1M450.7 134.7h.1M440.9 145.8h.1M462.9 159.0h.1M465.0 144.8h.1M441.0 114.6h.1M450.3 119.6h.1M437.2 137.8h.1M494.0 160.0h.1M436.2 105.4h.1M455.2 126.0h.1M456.0 170.1h.1M450.7 153.4h.1M465.2 142.4h.1M470.0 107.3h.1M460.5 116.6h.1M464.0 148.8h.1M460.9 122.3h.1M440.4 109.3h.1M453.8 163.0h.1M454.8 138.9h.1M427.8 151.5h.1M436.7 153.1h.1M467.0 160.2h.1M425.0 177.7h.1M447.5 164.4h.1M456.6 129.9h.1M431.7 173.0h.1M417.8 182.2h.1M465.1 165.9h.1M489.3 126.2h.1M465.4 148.8h.1M447.0 149.8h.1M423.6 158.1h.1M458.8 158.8h.1M465.4 106.5h.1M440.9 152.3h.1M479.4 132.4h.1M429.8 133.3h.1M469.6 172.0h.1M440.1 145.8h.1M454.2 154.6h.1M447.4 137.7h.1M430.2 134.1h.1M461.9 135.7h.1M484.8 145.9h.1M444.0 153.8h.1M458.2 150.7h.1M447.8 104.8h.1M435.2 113.8h.1M459.4 115.8h.1M476.6 105.7h.1M453.3 129.5h.1M410.4 146.4h.1M442.0 169.6h.1M401.9 176.3h.1M453.3 146.9h.1M456.9 113.6h.1M457.3 110.6h.1M455.3 154.3h.1M478.6 153.5h.1M459.2 175.1h.1M432.7 113.7h.1M466.4 177.2h.1M473.0 131.6h.1M435.5 166.0h.1M433.8 182.9h.1M448.4 135.3h.1M456.9 128.8h.1M444.8 128.4h.1M482.5 173.1h.1M474.5 159.3h.1M451.9 126.9h.1M438.8 158.9h.1M423.6 134.4h.1M425.9 151.2h.1M444.8 110.5h.1M431.3 163.8h.1M448.9 116.9h.1M415.5 130.5h.1M449.2 150.3h.1M471.1 148.2h.1M437.6 157.7h.1M438.1 164.1h.1M454.9 113.8h.1M469.2 153.4h.1M444.3 136.1h.1M465.5 112.9h.1M444.8 151.2h.1M494.8 153.6h.1M425.6 179.9h.1M431.1 154.7h.1M417.6 127.6h.1M467.2 105.8h.1M441.6 115.6h.1M467.2 104.9h.1M442.1 150.4h.1M458.6 106.2h.1M414.0 173.2h.1M467.6 178.3h.1M451.9 132.6h.1M451.3 116.3h.1M443.4 173.6h.1M481.8 114.0h.1M426.2 182.6h.1M478.0 142.5h.1M437.6 159.1h.1M457.7 138.6h.1M442.3 145.0h.1M442.2 163.8h.1M418.4 166.4h.1M456.9 146.1h.1M475.1 119.1h.1M429.3 142.7h.1M468.3 114.4h.1M477.4 184.4h.1M451.5 124.1h.1M461.0 141.2h.1M482.8 158.8h.1M468.3 116.5h.1M446.8 177.5h.1M448.4 111.9h.1M484.4 129.0h.1M411.5 138.1h.1M439.6 154.2h.1M431.9 163.8h.1M437.6 146.6h.1M488.8 148.3h.1M413.0 177.8h.1M452.3 152.1h.1M440.2 155.2h.1M449.0 163.1h.1M432.7 153.3h.1M425.4 157.9h.1M421.7 158.1h.1M460.2 123.7h.1M443.8 165.7h.1M464.6 148.2h.1M445.3 159.9h.1M460.8 104.1h.1M467.2 155.5h.1M480.5 133.1h.1M422.2 177.9h.1M453.7 109.5h.1M455.7 107.2h.1M444.6 181.0h.1M490.3 129.0h.1M453.5 175.5h.1M441.6 124.8h.1M464.6 149.4h.1M460.7 125.3h.1M445.7 115.5h.1M465.1 174.9h.1M430.7 106.4h.1M422.0 167.3h.1M474.7 118.8h.1M472.6 146.0h.1M427.1 150.1h.1M444.1 142.6h.1M473.5 123.0h.1M433.5 169.3h.1M461.0 156.8h.1M434.3 136.1h.1M461.8 136.5h.1M400.7 137.4h.1M444.5 156.1h.1M445.4 160.4h.1M491.2 163.8h.1M445.5 151.6h.1M407.2 132.7h.1M441.2 111.6h.1M449.3 164.0h.1M453.4 158.5h.1M434.4 127.0h.1M482.7 159.7h.1M456.3 121.9h.1M456.0 122.0h.1M444.2 140.3h.1M425.5 121.0h.1M450.9 108.7h.1M453.6 106.6h.1M453.2 114.1h.1M479.4 163.6h.1M444.3 164.1h.1M427.0 172.7h.1M444.7 162.2h.1M468.9 116.5h.1M441.5 114.3h.1M431.0 124.5h.1M456.8 109.2h.1M472.0 178.2h.1M455.8 122.4h.1M443.4 150.2h.1M434.7 142.5h.1M460.5 164.4h.1M452.9 108.2h.1M468.3 112.9h.1M471.1 173.5h.1M473.1 114.9h.1M483.1 178.0h.1M447.0 102.7h.1M448.2 120.9h.1M461.3 143.0h.1M435.2 155.0h.1M437.0 128.2h.1M412.6 176.9h.1M450.0 105.9h.1M430.9 161.3h.1M484.7 108.3h.1M473.5 107.2h.1M409.0 181.5h.1M435.7 127.5h.1M468.0 110.2h.1M461.2 107.3h.1M457.7 114.3h.1M468.1 178.5h.1M422.7 140.7h.1M459.7 119.2h.1M481.7 119.8h.1M440.4 152.0h.1M450.0 180.7h.1M435.8 136.5h.1M441.2 130.0h.1M458.3 114.1h.1M406.9 163.3h.1M452.5 158.9h.1M430.9 162.3h.1M458.7 114.7h.1M431.5 161.3h.1M458.3 127.9h.1M449.5 175.7h.1M419.9 156.3h.1M451.3 105.3h.1M456.8 119.3h.1M445.3 121.4h.1M451.2 134.4h.1M471.1 118.5h.1M495.5 154.3h.1M463.2 174.6h.1M465.4 106.5h.1M467.6 111.3h.1M457.8 109.1h.1M473.1 127.8h.1M444.5 108.4h.1M438.9 177.0h.1M457.8 178.6h.1M441.2 180.0h.1M415.2 173.0h.1M453.9 136.3h.1M462.9 108.7h.1M430.7 179.3h.1M448.0 110.0h.1M432.5 156.4h.1M470.2 120.1h.1M463.9 134.0h.1M449.5 179.6h.1M456.5 179.7h.1M454.4 125.1h.1M457.9 164.0h.1M442.2 131.6h.1M444.3 182.2h.1M432.2 161.4h.1M438.5 144.7h.1M472.4 153.5h.1M427.6 149.6h.1M464.4 156.2h.1M470.6 106.6h.1M467.8 162.3h.1M436.6 164.0h.1M454.4 108.8h.1M441.0 130.3h.1M472.8 142.9h.1M476.4 153.1h.1M418.9 160.8h.1M471.6 147.4h.1M417.3 141.9h.1M440.1 161.1h.1M456.9 122.6h.1M453.3 123.2h.1M428.8 144.0h.1M441.8 108.4h.1M464.8 158.6h.1M455.3 156.9h.1M467.3 113.2h.1M446.4 108.1h.1M464.1 124.3h.1M457.3 167.9h.1M453.8 163.6h.1M432.2 144.8h.1M488.0 132.9h.1M476.5 133.0h.1M463.9 160.6h.1M475.2 122.9h.1M446.8 172.6h.1M457.6 111.8h.1M426.0 112.5h.1M435.5 132.6h.1M463.5 155.2h.1M457.0 122.3h.1M447.8 120.1h.1M447.7 159.0h.1M436.7 128.5h.1M495.5 155.4h.1M481.2 159.4h.1M457.3 105.6h.1M422.1 160.7h.1M468.4 166.8h.1M438.0 159.2h.1M448.7 153.7h.1M453.1 175.8h.1M449.5 171.8h.1M452.0 163.5h.1M441.5 172.6h.1M462.6 157.0h.1M440.2 167.8h.1M450.0 174.4h.1M453.9 160.6h.1M435.1 168.8h.1M450.0 148.0h.1M434.1 141.9h.1M455.2 157.2h.1M415.7 152.3h.1M442.6 160.8h.1M449.3 158.3h.1M456.4 173.3h.1M446.7 179.4h.1M447.7 152.5h.1M450.5 146.2h.1M446.0 150.3h.1M444.7 164.2h.1M424.4 166.3h.1M451.6 159.6h.1M456.1 165.8h.1M445.3 150.9h.1M456.3 170.3h.1M434.2 153.9h.1M437.1 171.1h.1M443.2 148.2h.1M464.1 167.0h.1M451.3 164.7h.1M447.2 162.3h.1M457.9 166.8h.1M444.4 163.0h.1M467.7 155.8h.1M435.7 163.2h.1M437.5 190.9h.1M455.2 168.4h.1M452.6 183.7h.1M438.7 161.4h.1M432.2 175.6h.1M448.2 181.5h.1M446.2 150.4h.1M441.9 170.8h.1M440.7 164.8h.1M441.7 154.1h.1M443.3 179.9h.1M438.1 165.5h.1M457.0 153.7h.1M433.8 178.5h.1M466.4 159.1h.1M436.9 171.5h.1M448.5 152.8h.1M445.0 135.5h.1M440.7 148.4h.1M435.6 168.3h.1M451.6 180.7h.1M421.9 154.5h.1M440.4 176.5h.1M459.3 163.2h.1M449.8 153.5h.1M443.7 156.9h.1M423.5 182.9h.1M461.3 167.3h.1M457.3 143.1h.1M438.6 171.3h.1M445.0 143.9h.1M448.7 147.5h.1M448.8 179.2h.1M437.4 156.8h.1M454.4 161.5h.1M450.7 152.4h.1M445.4 135.3h.1M447.0 176.1h.1M437.5 159.7h.1M456.0 175.4h.1M460.6 151.9h.1M444.6 181.3h.1M444.1 165.0h.1M440.3 154.5h.1M418.8 155.7h.1M426.6 150.5h.1M438.9 176.8h.1M456.5 166.2h.1M443.5 146.3h.1M453.6 152.5h.1M447.6 172.2h.1M446.8 161.4h.1M438.7 173.4h.1M454.1 169.6h.1M465.2 143.6h.1M449.0 168.9h.1M452.1 165.1h.1M453.5 144.7h.1M448.0 174.7h.1M448.2 159.5h.1M457.3 142.2h.1M452.8 178.6h.1M446.2 152.5h.1M454.1 156.7h.1M440.4 163.6h.1M431.9 169.2h.1M436.6 155.6h.1M456.1 161.4h.1M451.4 177.1h.1M464.1 185.0h.1M443.2 172.0h.1M432.0 170.6h.1M462.0 153.6h.1M453.4 171.1h.1M447.1 154.6h.1M464.0 147.0h.1M450.4 172.4h.1M451.1 179.4h.1M463.8 166.9h.1M466.7 170.1h.1M424.0 193.9h.1M413.6 209.8h.1M416.6 189.0h.1M485.7 197.2h.1M435.1 188.0h.1M466.0 190.4h.1M433.0 195.6h.1M480.0 189.5h.1M428.8 189.9h.1M427.3 195.8h.1M425.3 194.7h.1M463.2 183.7h.1M480.4 187.6h.1M438.3 187.6h.1M488.2 190.3h.1M479.1 194.6h.1M433.1 195.5h.1M469.2 190.5h.1M403.9 190.6h.1M417.7 200.0h.1M427.6 191.7h.1M478.7 190.7h.1M432.8 194.5h.1M424.5 192.0h.1M411.4 109.8h.1M462.5 109.3h.1M415.8 158.6h.1M436.7 176.2h.1M454.7 99.1h.1M460.9 113.6h.1M475.2 155.2h.1M470.7 95.1h.1" stroke="#333" stroke-width="1.15" stroke-linecap="square" opacity="0.6" fill="none"/>
<rect x="397" y="77" width="102" height="106" fill="none" stroke="#666" stroke-width="1.8"/>
<path d="M346.5 252.3h.1M366.7 251.1h.1M345.7 251.0h.1M430.0 252.6h.1M401.0 251.2h.1M497.3 251.1h.1M460.7 251.9h.1M517.7 250.8h.1M447.0 251.5h.1M496.5 251.2h.1M475.8 251.1h.1M434.1 252.6h.1M385.6 251.3h.1M514.3 252.0h.1M352.5 251.1h.1M385.1 251.3h.1M500.5 252.1h.1M526.2 252.0h.1M459.3 251.5h.1M476.3 251.7h.1M351.2 251.7h.1M413.0 251.8h.1M349.3 250.8h.1M526.7 251.4h.1M402.7 251.0h.1M452.6 252.5h.1M374.3 251.7h.1M434.9 252.2h.1M447.4 251.2h.1M376.0 252.1h.1M354.8 252.4h.1M346.4 251.1h.1M428.9 252.4h.1M457.7 252.2h.1M484.6 252.1h.1M349.8 252.4h.1M368.1 251.0h.1M347.1 250.8h.1M506.6 251.5h.1M356.4 250.8h.1" stroke="#333" stroke-width="1.2" stroke-linecap="square" opacity="0.8" fill="none"/>
<text x="157" y="365.6" font-size="32" text-anchor="start" font-weight="normal" font-style="normal" fill="#111">WT</text>
<line x1="157.8" y1="370.5" x2="202.9" y2="370.5" stroke="#111" stroke-width="2.6" />
<line x1="80.8" y1="379.5" x2="302.4" y2="379.5" stroke="#888" stroke-width="1.2" />
<line x1="78.1" y1="390.8" x2="78.1" y2="574.8" stroke="#999" stroke-width="1.2" stroke-dasharray="1.5 3"/>
<line x1="80.8" y1="574.8" x2="300" y2="574.8" stroke="#999" stroke-width="1.2" stroke-dasharray="1.5 3"/>
<text x="76" y="408" font-size="21" text-anchor="end" fill="#222"><tspan font-size="21" dy="0">10</tspan><tspan font-size="14.280000000000001" dy="-8">5</tspan><tspan font-size="21" dy="8"></tspan></text>
<text x="76" y="451" font-size="21" text-anchor="end" fill="#222"><tspan font-size="21" dy="0">10</tspan><tspan font-size="14.280000000000001" dy="-8">4</tspan><tspan font-size="21" dy="8"></tspan></text>
<text x="76" y="504" font-size="21" text-anchor="end" fill="#222"><tspan font-size="21" dy="0">10</tspan><tspan font-size="14.280000000000001" dy="-8">3</tspan><tspan font-size="21" dy="8"></tspan></text>
<text x="76" y="539" font-size="21" text-anchor="end" fill="#222">0</text>
<text x="76" y="567" font-size="21" text-anchor="end" fill="#222"><tspan font-size="21" dy="0">-10</tspan><tspan font-size="14.280000000000001" dy="-8">3</tspan><tspan font-size="21" dy="8"></tspan></text>
<text x="115" y="597" font-size="21" text-anchor="middle" fill="#222">0</text>
<text x="195" y="597" font-size="21" text-anchor="end" fill="#222"><tspan font-size="21" dy="0">10</tspan><tspan font-size="14.280000000000001" dy="-8">3</tspan><tspan font-size="21" dy="8"></tspan></text>
<text x="244" y="597" font-size="21" text-anchor="end" fill="#222"><tspan font-size="21" dy="0">10</tspan><tspan font-size="14.280000000000001" dy="-8">4</tspan><tspan font-size="21" dy="8"></tspan></text>
<text x="294" y="597" font-size="21" text-anchor="end" fill="#222"><tspan font-size="21" dy="0">10</tspan><tspan font-size="14.280000000000001" dy="-8">5</tspan><tspan font-size="21" dy="8"></tspan></text>
<text x="37.6" y="595.5" font-size="25" fill="#111" textLength="225.5" lengthAdjust="spacingAndGlyphs" transform="rotate(-90 37.6 595.5)">2WIS Tetramer-APC</text>
<text x="80.8" y="629.3" font-size="26.5" text-anchor="start" font-weight="normal" font-style="normal" fill="#111">CD3ε-PE</text>
<text x="90.2" y="417" font-size="26" text-anchor="start" font-weight="normal" font-style="normal" fill="#111">17.2</text>
<path d="M196.4 435.0C200.4 435.3 205.7 436.8 208.9 439.7C212.1 442.6 214.2 447.7 215.5 452.2C216.8 456.7 216.5 460.9 216.5 466.5C216.5 472.1 216.4 480.4 215.5 485.6C214.6 490.9 213.5 495.4 210.8 498.0C208.1 500.6 202.8 501.2 199.3 500.9C195.8 500.6 192.1 499.5 189.7 496.1C187.3 492.8 186.3 486.1 185.0 480.8C183.7 475.6 182.9 470.2 182.1 464.6C181.3 459.0 179.7 451.9 180.2 447.4C180.7 442.9 182.3 439.9 185.0 437.8C187.7 435.7 192.4 434.7 196.4 435.0Z" fill="none" stroke="#333" stroke-width="1.2"/>
<path d="M196.5 436.6C200.2 437.0 205.2 438.4 208.1 441.1C211.1 443.8 213.1 448.7 214.3 453.0C215.5 457.2 215.2 461.3 215.2 466.6C215.2 471.9 215.2 479.7 214.3 484.7C213.4 489.7 212.4 494.1 209.9 496.5C207.4 498.9 202.5 499.6 199.2 499.3C195.9 499.0 192.5 497.9 190.3 494.7C188.1 491.5 187.1 485.1 185.9 480.2C184.7 475.2 184.0 470.1 183.2 464.8C182.5 459.5 181.0 452.7 181.4 448.4C181.9 444.2 183.4 441.3 185.9 439.3C188.4 437.3 192.8 436.3 196.5 436.6Z" fill="none" stroke="#444" stroke-width="0.9"/>
<path d="M196.4 442.1C198.8 441.8 201.8 443.4 203.1 445.5C204.4 447.6 204.2 452.4 204.1 455.0C203.9 457.6 201.1 458.9 202.2 460.8C203.3 462.7 209.2 463.2 210.8 466.5C212.4 469.8 211.9 476.7 211.7 480.8C211.5 484.9 211.6 489.3 209.8 491.4C208.1 493.5 203.8 493.3 201.2 493.3C198.6 493.3 195.5 493.5 194.0 491.4C192.5 489.3 192.2 484.9 192.1 480.8C192.0 476.7 194.0 470.5 193.6 466.5C193.2 462.5 190.5 460.1 189.7 456.9C188.9 453.7 187.7 449.9 188.8 447.4C189.9 444.9 194.0 442.4 196.4 442.1Z" fill="none" stroke="#333" stroke-width="1.2"/>
<path d="M176.0 524.0C176.0 521.2 179.5 517.6 182.6 515.8C185.7 513.9 191.7 513.8 194.6 513.0C197.5 512.2 196.1 511.3 200.0 511.0C203.9 510.7 214.1 510.7 218.0 511.0C221.9 511.3 220.5 512.2 223.4 513.0C226.3 513.8 232.3 513.9 235.4 515.8C238.5 517.6 242.0 521.2 242.0 524.0C242.0 526.8 240.9 531.0 235.4 532.8C229.9 534.6 217.8 535.0 209.0 535.0C200.2 535.0 188.1 534.6 182.6 532.8C177.1 531.0 176.0 526.8 176.0 524.0Z" fill="none" stroke="#333" stroke-width="1.0"/>
<ellipse cx="209.99" cy="524.5" rx="28.05" ry="8.88" fill="none" stroke="#333" stroke-width="0.9" opacity="1"/>
<ellipse cx="209.99" cy="524.5" rx="23.76" ry="7.52" fill="none" stroke="#333" stroke-width="0.9" opacity="1"/>
<ellipse cx="210.65" cy="524.8" rx="20.46" ry="6.14" fill="none" stroke="#444" stroke-width="0.8" opacity="1"/>
<ellipse cx="210.65" cy="524.8" rx="18.48" ry="5.54" fill="none" stroke="#444" stroke-width="0.8" opacity="1"/>
<ellipse cx="210.98" cy="525" rx="16.5" ry="4.95" fill="#1a1a1a"/>
<line x1="197.78" y1="522.03" x2="224.18" y2="522.03" stroke="#888" stroke-width="0.7" />
<line x1="197.78" y1="524.01" x2="224.18" y2="524.01" stroke="#888" stroke-width="0.7" />
<line x1="197.78" y1="525.99" x2="224.18" y2="525.99" stroke="#888" stroke-width="0.7" />
<line x1="197.78" y1="527.97" x2="224.18" y2="527.97" stroke="#888" stroke-width="0.7" />
<path d="M184.4 481.7h.1M181.5 487.0h.1M182.7 488.6h.1M199.0 431.0h.1M188.3 422.8h.1M214.4 438.8h.1M230.8 502.3h.1M197.2 426.0h.1M185.8 486.8h.1M230.0 455.0h.1M171.1 446.4h.1M227.7 465.8h.1M177.7 423.8h.1M226.5 420.0h.1M175.1 469.7h.1M220.8 429.3h.1M207.0 414.9h.1M181.0 419.3h.1M209.3 438.9h.1M170.8 454.3h.1M176.7 443.4h.1M173.0 446.3h.1M181.0 417.3h.1M193.0 499.6h.1M181.1 464.6h.1M225.6 463.9h.1M171.9 464.7h.1M172.4 493.7h.1M178.6 445.7h.1M177.8 496.9h.1M218.3 444.9h.1M219.7 477.8h.1M215.1 493.4h.1M220.5 445.3h.1M188.4 508.3h.1M229.5 486.2h.1M218.7 457.2h.1M188.7 495.0h.1M220.9 445.7h.1M227.5 453.6h.1M198.0 432.3h.1M219.2 461.7h.1M215.1 488.5h.1M227.3 429.0h.1M180.9 482.0h.1M184.6 487.5h.1M214.4 436.6h.1M186.1 431.5h.1M182.8 484.8h.1M220.7 487.2h.1M203.6 506.5h.1M181.6 438.4h.1M174.7 508.6h.1M177.4 500.9h.1M218.1 491.8h.1M218.7 464.7h.1M229.0 435.8h.1M173.4 471.9h.1M175.4 462.9h.1M205.8 429.8h.1M183.4 474.4h.1M214.3 436.2h.1M217.9 466.2h.1M225.0 488.9h.1M179.6 460.6h.1M243.3 467.1h.1M214.2 497.4h.1M200.0 429.1h.1M202.8 508.6h.1M194.1 432.0h.1M177.1 474.5h.1M225.7 452.5h.1M224.4 469.2h.1M201.9 433.5h.1M211.5 424.3h.1M168.4 436.0h.1M211.0 440.4h.1M208.2 506.9h.1M217.9 456.5h.1M182.9 479.2h.1M183.3 481.2h.1M181.8 474.5h.1M206.5 429.3h.1M218.0 446.1h.1M179.7 460.5h.1M171.6 460.2h.1M172.3 440.7h.1M173.1 500.4h.1M214.5 492.4h.1M174.6 468.2h.1M188.1 504.8h.1M195.8 425.1h.1M219.6 481.3h.1M225.3 435.2h.1M180.5 476.7h.1M231.3 449.0h.1M222.5 445.3h.1M178.1 473.2h.1M206.3 424.4h.1M238.1 455.0h.1M198.5 431.9h.1M177.2 461.4h.1M223.1 508.4h.1M234.6 453.9h.1M224.7 448.6h.1M215.2 435.8h.1M195.7 428.2h.1M221.5 478.2h.1M167.3 469.2h.1M218.5 447.2h.1M179.0 481.6h.1M218.3 450.4h.1M228.9 471.2h.1M180.1 445.5h.1M185.2 426.1h.1M212.6 418.7h.1M219.0 463.5h.1M214.5 438.5h.1M171.2 516.2h.1M175.1 482.8h.1M177.0 512.6h.1M188.8 506.3h.1M209.3 434.6h.1M215.5 441.5h.1M198.6 427.7h.1M224.9 463.7h.1M225.2 505.3h.1M219.2 478.7h.1M237.1 431.7h.1M224.9 437.0h.1M198.4 503.3h.1M225.6 466.3h.1M228.1 481.5h.1M165.3 458.6h.1M186.7 496.2h.1M191.7 506.8h.1M183.9 493.9h.1M237.6 466.5h.1M174.1 502.2h.1M188.0 500.5h.1M219.2 471.1h.1M188.1 431.1h.1M220.8 509.4h.1M228.3 443.1h.1M176.6 498.2h.1M228.8 476.8h.1M180.0 477.3h.1M173.6 479.0h.1M196.8 503.1h.1M191.0 418.6h.1M218.5 482.4h.1M224.5 498.2h.1M217.1 432.5h.1M165.7 502.8h.1M222.4 484.1h.1M207.8 430.5h.1M228.7 473.1h.1M187.6 432.9h.1M166.0 469.2h.1M213.3 433.6h.1M171.7 482.8h.1M223.7 459.5h.1M224.2 435.5h.1M219.8 477.7h.1M209.2 436.1h.1M172.7 482.1h.1M217.8 456.7h.1M225.8 472.5h.1M218.6 468.5h.1M220.2 448.5h.1M197.5 506.3h.1M185.2 428.0h.1M177.9 506.9h.1M220.0 486.4h.1M214.8 492.1h.1M224.7 450.5h.1M220.3 417.7h.1M171.1 437.6h.1M180.2 434.9h.1M172.4 481.6h.1M226.5 434.3h.1M176.7 472.9h.1M164.0 438.3h.1M196.7 434.3h.1M219.9 465.2h.1M218.9 468.9h.1M217.9 482.2h.1M224.2 486.9h.1M240.3 468.1h.1M170.8 480.6h.1M180.3 470.5h.1M182.4 510.6h.1M170.2 454.2h.1M219.8 474.3h.1M206.7 431.3h.1M178.0 477.7h.1M197.9 505.6h.1M196.3 506.2h.1M180.6 458.4h.1M222.5 455.8h.1M236.3 498.6h.1M170.1 467.2h.1M220.3 460.3h.1M218.0 450.0h.1M176.1 465.0h.1M177.6 448.8h.1M217.6 480.6h.1M219.9 465.1h.1M181.5 474.4h.1M190.6 429.5h.1M191.4 512.8h.1M173.8 481.0h.1M180.6 428.1h.1M179.0 487.7h.1M231.3 472.8h.1M223.3 468.6h.1M172.1 464.1h.1M231.0 426.1h.1M211.1 435.6h.1M188.8 426.6h.1M182.0 441.2h.1M202.0 429.8h.1M192.8 413.2h.1M232.0 435.2h.1M229.7 471.0h.1M219.8 454.8h.1M211.7 432.1h.1M171.4 467.0h.1M217.5 475.5h.1M178.7 449.7h.1M168.1 488.7h.1M168.6 436.8h.1M178.6 437.7h.1M182.5 470.1h.1M174.8 460.8h.1M172.5 490.8h.1M191.8 507.7h.1M182.3 497.5h.1M221.3 485.7h.1M184.6 491.1h.1M162.4 489.7h.1M216.1 444.5h.1M217.0 428.8h.1M183.7 476.7h.1M166.9 491.9h.1M185.1 512.7h.1M177.2 459.5h.1M187.5 494.1h.1M176.0 466.9h.1M217.0 470.0h.1M219.1 484.0h.1M226.4 472.4h.1M177.4 490.0h.1M230.4 487.1h.1M175.6 457.1h.1M177.8 476.5h.1M218.3 488.1h.1M236.3 477.7h.1M216.4 457.0h.1M180.0 476.7h.1M180.7 481.7h.1M186.9 490.3h.1M182.5 476.7h.1M180.2 445.3h.1M204.1 413.9h.1M176.2 454.7h.1M180.4 427.1h.1M219.1 472.6h.1M214.7 510.6h.1M218.5 453.2h.1M174.7 473.1h.1M221.0 479.8h.1M217.4 488.2h.1M211.1 497.9h.1M214.0 433.1h.1M225.1 484.1h.1M231.2 457.9h.1M211.4 436.6h.1M157.9 465.0h.1M181.8 439.2h.1M168.6 441.1h.1M194.7 508.2h.1M219.0 470.8h.1M171.2 431.4h.1M176.5 454.5h.1M183.1 490.8h.1M223.8 478.0h.1M199.7 428.0h.1M190.9 501.7h.1M219.1 470.9h.1M216.4 477.0h.1M179.7 450.7h.1M196.7 430.3h.1M166.5 457.5h.1M225.5 462.9h.1M222.9 448.8h.1M222.3 492.0h.1M177.6 470.8h.1M232.1 472.8h.1M187.1 491.6h.1M221.6 484.2h.1M230.2 450.2h.1M226.1 493.3h.1M176.7 444.1h.1M178.0 503.0h.1M162.1 479.9h.1M178.5 457.7h.1M221.8 471.3h.1M217.4 439.4h.1M217.5 475.3h.1M225.3 487.1h.1M219.5 460.1h.1M226.8 446.9h.1M172.0 466.1h.1M183.8 492.6h.1M217.0 486.8h.1M219.3 448.6h.1M190.3 435.2h.1M186.7 424.3h.1M181.0 484.3h.1M184.0 415.9h.1M216.4 481.1h.1M181.2 465.2h.1M229.4 463.3h.1M173.8 480.6h.1M185.6 434.6h.1M213.2 424.7h.1M217.5 445.5h.1M171.9 444.0h.1M180.1 444.0h.1M221.0 446.2h.1M222.2 457.3h.1M188.1 432.2h.1M172.3 458.1h.1M229.1 472.0h.1M202.7 433.7h.1M217.6 480.1h.1M176.3 426.8h.1M176.6 432.5h.1M179.8 495.1h.1M231.2 440.5h.1M223.2 478.1h.1M178.0 458.0h.1M173.9 484.2h.1M173.6 479.9h.1M179.5 470.7h.1M210.6 439.7h.1M170.6 464.0h.1M214.1 431.8h.1M220.2 495.3h.1M212.2 500.6h.1M222.7 464.9h.1M237.5 458.7h.1M216.9 473.6h.1M169.2 469.4h.1M226.6 465.6h.1M206.0 434.5h.1M180.7 467.8h.1M223.8 447.4h.1M175.9 490.1h.1M226.1 458.8h.1M181.3 477.6h.1M175.8 454.5h.1M160.4 500.0h.1M228.3 487.2h.1M211.3 427.9h.1M220.3 496.2h.1M205.0 435.1h.1M188.4 500.0h.1M206.4 418.8h.1M216.7 476.8h.1M230.5 471.6h.1M203.6 435.0h.1M162.9 477.4h.1M177.9 435.5h.1M223.8 445.1h.1M223.1 461.0h.1M184.5 478.7h.1M224.5 492.4h.1M180.1 507.6h.1M181.2 466.8h.1M171.4 489.2h.1M191.8 498.4h.1M217.2 471.8h.1M217.8 478.6h.1M218.0 442.8h.1M173.2 444.2h.1M169.3 502.7h.1M219.1 455.9h.1M176.3 498.3h.1M172.7 473.2h.1M171.3 510.5h.1M219.0 465.9h.1M153.6 463.3h.1M225.5 499.9h.1M232.1 461.8h.1M232.3 455.9h.1M195.4 419.3h.1M231.2 434.7h.1M201.0 430.9h.1M168.0 445.6h.1M170.3 479.1h.1M222.1 452.5h.1M205.5 434.4h.1M229.4 463.7h.1M174.8 459.8h.1M186.4 430.6h.1M222.1 471.9h.1M213.9 438.9h.1M216.6 502.9h.1M205.1 503.0h.1M192.9 417.7h.1M177.0 491.3h.1M177.4 455.6h.1M184.2 480.0h.1M209.6 439.3h.1M175.6 492.8h.1M221.7 459.2h.1M182.2 490.3h.1M162.0 465.4h.1M177.7 465.7h.1M178.6 479.2h.1M162.1 482.0h.1M205.0 427.2h.1M157.8 473.1h.1M174.3 473.8h.1M223.1 458.7h.1M217.4 487.1h.1M179.7 452.9h.1M169.1 440.4h.1M195.0 510.8h.1M167.0 455.6h.1M215.9 436.9h.1M172.4 479.3h.1M159.1 447.2h.1M222.7 445.1h.1M213.0 504.8h.1M176.0 433.0h.1M181.0 486.6h.1M213.0 444.3h.1M183.6 439.0h.1M199.7 420.9h.1M179.7 442.8h.1M182.2 467.2h.1M221.7 498.9h.1M180.6 475.3h.1M217.3 485.1h.1M182.3 509.7h.1M172.4 480.3h.1M182.3 469.6h.1M206.3 504.5h.1M175.6 457.5h.1M220.6 428.4h.1M181.3 485.9h.1M215.0 439.8h.1M178.9 482.3h.1M222.4 443.2h.1M183.2 476.8h.1M165.0 507.0h.1M197.1 433.3h.1M180.1 498.9h.1M216.3 449.6h.1M190.3 426.6h.1M174.1 441.4h.1M182.8 480.3h.1M216.2 451.9h.1M218.1 443.1h.1M217.0 456.9h.1M220.8 471.0h.1M225.9 490.4h.1M228.1 480.4h.1M178.0 458.8h.1M221.5 431.8h.1M218.4 460.9h.1M173.5 459.3h.1M193.9 429.4h.1M195.5 412.8h.1M184.3 506.7h.1M223.0 491.6h.1M231.6 468.8h.1M217.1 445.3h.1M234.4 466.7h.1M174.2 498.5h.1M212.3 433.1h.1M239.1 448.9h.1M215.8 497.5h.1M179.3 445.8h.1M176.5 494.4h.1M240.9 481.4h.1M222.4 487.2h.1M170.7 489.4h.1M185.0 491.9h.1M213.1 440.1h.1M184.6 430.8h.1M178.4 483.9h.1M171.4 475.1h.1M228.8 469.3h.1M171.3 486.1h.1M222.8 465.0h.1M216.7 496.4h.1M217.1 469.0h.1M171.5 491.7h.1M181.1 495.1h.1M214.4 508.6h.1M223.3 436.5h.1M227.2 454.4h.1M220.4 472.7h.1M198.0 507.8h.1M203.0 432.1h.1M164.5 477.0h.1M202.0 434.2h.1M175.0 464.6h.1M180.9 508.3h.1M197.4 430.1h.1M166.5 454.9h.1M162.8 475.3h.1M164.5 483.1h.1M215.1 433.7h.1M223.5 495.2h.1M223.0 463.8h.1M217.2 458.4h.1M218.3 454.5h.1M225.7 456.8h.1M181.3 460.4h.1M208.2 438.6h.1M226.2 475.3h.1M191.4 425.7h.1M172.9 470.5h.1M216.5 454.7h.1M181.4 465.7h.1M230.8 431.1h.1M225.6 457.2h.1M188.0 433.3h.1M223.6 470.3h.1M178.0 454.4h.1M225.8 482.8h.1M185.9 488.2h.1M204.5 503.0h.1M217.3 466.8h.1M217.8 464.0h.1M216.1 490.6h.1M221.3 471.3h.1M213.0 432.1h.1M194.8 511.6h.1M236.3 480.8h.1M179.0 501.8h.1M155.4 479.5h.1M174.9 473.3h.1M244.8 464.6h.1M179.0 454.3h.1M179.7 436.2h.1M235.2 454.6h.1M218.0 464.8h.1M221.3 454.7h.1M177.6 510.0h.1M224.6 474.4h.1M221.9 422.9h.1M212.1 436.9h.1M179.7 422.4h.1M215.7 485.7h.1M180.3 491.2h.1M178.7 458.5h.1M218.6 475.9h.1M215.5 496.0h.1M173.8 422.7h.1M210.4 438.1h.1M218.4 473.2h.1M240.6 413.1h.1M181.8 471.5h.1M188.5 498.1h.1M204.1 501.4h.1M212.1 418.6h.1M200.5 425.7h.1M220.3 477.8h.1M184.4 490.1h.1M168.0 439.7h.1M216.0 430.8h.1M174.5 421.6h.1M175.2 486.9h.1M174.7 415.7h.1M183.5 481.0h.1M186.3 496.8h.1M223.4 475.2h.1M215.1 500.1h.1M218.2 467.4h.1M180.8 473.1h.1M214.5 434.0h.1M225.1 505.4h.1M182.7 471.7h.1M228.9 484.5h.1M228.3 508.1h.1M225.2 468.8h.1M182.5 467.9h.1M175.7 424.9h.1M193.4 501.3h.1M180.7 469.3h.1M224.8 444.5h.1M190.9 503.3h.1M224.4 479.9h.1M198.0 420.3h.1M210.2 501.0h.1M173.5 478.6h.1M163.3 474.2h.1M223.0 443.2h.1M176.8 462.0h.1M234.4 442.5h.1M178.8 440.5h.1M224.8 450.7h.1M216.7 465.7h.1M204.4 426.9h.1M222.2 431.6h.1M181.2 483.4h.1M234.4 469.4h.1M167.3 430.5h.1M201.8 502.0h.1M179.8 469.0h.1M234.0 440.8h.1M217.8 487.3h.1M209.1 433.5h.1M180.0 465.8h.1M218.1 463.3h.1M231.0 487.0h.1M179.8 458.1h.1M178.0 489.3h.1M166.4 478.5h.1M201.4 435.4h.1M226.2 461.3h.1M221.2 466.4h.1M216.3 446.1h.1M178.2 471.2h.1M216.5 476.7h.1M196.6 434.3h.1M229.1 432.7h.1M182.4 475.6h.1M191.7 429.2h.1M208.4 437.2h.1M174.2 471.6h.1M170.6 480.9h.1M218.4 461.0h.1M230.5 461.2h.1M238.3 466.9h.1M226.0 487.5h.1M226.0 500.4h.1M216.4 449.0h.1M210.4 435.1h.1M211.8 498.3h.1M217.5 457.5h.1M178.3 418.7h.1M221.0 470.7h.1M217.6 484.4h.1M218.0 471.4h.1M181.0 502.5h.1M181.7 467.4h.1M190.5 421.0h.1M177.6 454.4h.1M223.0 474.1h.1M162.6 465.6h.1M226.3 438.1h.1M176.8 479.7h.1M208.0 438.7h.1M207.5 427.1h.1M239.9 460.4h.1M210.8 430.9h.1M215.8 500.1h.1M222.4 446.8h.1M226.7 444.5h.1M183.7 494.8h.1M179.2 482.1h.1M220.1 465.2h.1M177.5 459.1h.1M229.6 431.1h.1M234.1 455.0h.1M220.4 475.1h.1M178.1 467.4h.1M233.9 461.1h.1M216.5 444.6h.1M173.3 468.9h.1M225.7 462.7h.1M178.8 466.9h.1M232.9 458.9h.1M181.4 465.5h.1M207.2 423.5h.1M227.0 426.1h.1M217.0 463.9h.1M233.3 440.0h.1M224.4 472.2h.1M178.7 451.5h.1M208.7 430.2h.1M230.4 483.9h.1M181.5 439.3h.1M221.1 443.6h.1M223.6 466.0h.1M218.9 471.6h.1M227.6 442.6h.1M179.7 471.5h.1M228.0 485.2h.1M177.0 463.7h.1M178.0 484.2h.1M219.3 456.8h.1M178.2 451.1h.1M174.2 459.2h.1M195.4 500.7h.1M216.8 466.8h.1M217.4 471.9h.1M220.8 463.9h.1M189.4 507.5h.1M182.1 425.4h.1M180.9 470.9h.1M186.6 501.5h.1M230.5 509.3h.1M219.7 437.7h.1M204.7 433.6h.1M222.0 478.5h.1M218.2 476.1h.1M223.0 484.3h.1M182.0 471.6h.1M230.3 466.7h.1M177.6 480.6h.1M214.9 449.5h.1M238.8 461.4h.1M223.9 486.0h.1M223.2 485.2h.1M186.8 494.7h.1M227.9 457.8h.1M224.3 474.7h.1M205.5 431.5h.1M173.5 469.1h.1M177.4 434.6h.1M230.2 463.5h.1M221.9 437.0h.1M165.7 462.0h.1M167.7 439.2h.1M216.9 499.7h.1M180.5 455.6h.1M172.7 441.6h.1M180.2 463.3h.1M220.2 460.5h.1M180.6 476.6h.1M212.7 444.5h.1M186.5 502.2h.1M205.4 427.8h.1M179.8 463.7h.1M178.3 477.9h.1M214.3 429.4h.1M198.1 503.6h.1M187.5 491.4h.1M206.6 431.5h.1M178.2 434.1h.1M230.9 476.2h.1M202.5 436.0h.1M172.6 478.1h.1M179.9 479.6h.1M218.9 460.5h.1M176.6 506.7h.1M232.6 464.4h.1M182.3 469.6h.1M179.7 449.3h.1M189.7 435.5h.1M181.6 485.7h.1M227.6 464.0h.1M182.1 479.8h.1M223.8 469.6h.1M193.3 503.5h.1M223.4 457.7h.1M238.9 457.4h.1M172.2 453.4h.1M170.5 490.0h.1M166.0 442.4h.1M176.6 465.9h.1M175.2 451.8h.1M196.2 431.6h.1M179.9 470.4h.1M174.8 477.1h.1M177.9 505.1h.1M174.1 464.8h.1M169.6 508.2h.1M172.9 458.4h.1M194.2 425.5h.1M227.8 447.0h.1M170.7 499.9h.1M179.3 457.8h.1M187.0 493.7h.1M189.2 421.8h.1M157.6 459.5h.1M168.7 459.6h.1M181.3 482.8h.1M175.5 468.8h.1M196.7 434.3h.1M183.7 436.9h.1M220.3 460.8h.1M205.8 427.5h.1M220.9 462.7h.1M230.1 431.3h.1M187.3 497.8h.1M203.3 435.0h.1M184.4 492.7h.1M181.3 503.3h.1M212.5 509.3h.1M215.2 540.7h.1M240.2 516.0h.1M239.3 518.4h.1M227.7 501.8h.1M237.5 517.0h.1M234.9 536.5h.1M185.7 538.0h.1M245.4 533.6h.1M239.2 518.5h.1M166.1 529.3h.1M259.0 515.1h.1M253.6 525.3h.1M215.3 510.5h.1M224.4 540.8h.1M247.9 515.6h.1M241.2 536.0h.1M186.6 513.6h.1M241.4 516.9h.1M249.7 517.2h.1M175.0 516.1h.1M182.8 515.6h.1M164.2 518.5h.1M248.6 518.1h.1M160.9 512.0h.1M167.5 528.6h.1M200.0 504.8h.1M177.9 507.7h.1M257.6 517.6h.1M248.2 533.0h.1M169.8 508.7h.1M199.1 509.3h.1M159.7 516.7h.1M180.4 517.3h.1M178.1 531.9h.1M207.7 540.4h.1M180.1 532.5h.1M194.5 512.9h.1M244.4 517.6h.1M238.3 511.3h.1M244.3 524.6h.1M210.0 535.1h.1M219.5 508.9h.1M234.7 535.6h.1M170.1 519.1h.1M250.3 519.1h.1M243.8 526.9h.1M200.1 536.2h.1M168.1 531.9h.1M191.2 512.8h.1M203.6 508.1h.1M205.4 505.0h.1M176.4 519.0h.1M162.6 512.1h.1M245.4 521.1h.1M199.5 542.6h.1M252.5 532.2h.1M248.2 532.5h.1M242.4 528.2h.1M185.9 512.8h.1M240.7 512.9h.1M241.7 517.0h.1M241.3 531.4h.1M178.9 510.0h.1M169.9 529.5h.1M169.3 517.0h.1M244.5 516.0h.1M173.3 527.1h.1M229.6 504.8h.1M257.8 529.6h.1M232.6 510.0h.1M165.3 511.9h.1M246.9 515.2h.1M182.5 512.2h.1M243.6 528.6h.1M252.6 523.3h.1M247.7 518.3h.1M192.3 534.6h.1M187.3 534.6h.1M186.7 534.7h.1M245.8 509.1h.1M222.0 509.6h.1M180.0 513.1h.1M176.6 527.8h.1M158.3 520.7h.1M155.1 523.3h.1M185.2 541.3h.1M162.7 515.7h.1M165.0 523.5h.1M188.1 510.8h.1M192.0 510.8h.1M221.1 535.1h.1M174.3 508.0h.1M233.7 534.6h.1M166.9 521.3h.1M157.8 537.4h.1M240.9 519.5h.1M196.8 538.0h.1M245.0 527.8h.1M255.7 517.7h.1M162.8 521.8h.1M253.3 515.2h.1M172.3 509.8h.1M245.6 532.1h.1M222.0 534.7h.1M231.3 541.5h.1M160.3 518.5h.1M183.7 510.1h.1M205.1 540.0h.1M233.5 510.0h.1M160.8 533.8h.1M161.0 517.9h.1M215.7 539.0h.1M193.8 537.0h.1M165.9 536.4h.1M243.6 523.9h.1M245.0 538.0h.1M171.4 518.7h.1M234.4 534.7h.1M172.8 522.6h.1M254.8 525.0h.1M157.8 536.1h.1M221.6 540.6h.1M254.5 524.5h.1M160.2 531.0h.1M209.1 500.5h.1M234.1 511.6h.1M178.6 515.0h.1M240.0 512.6h.1M155.2 534.4h.1M191.0 536.5h.1M198.2 535.1h.1M178.7 518.3h.1M232.9 536.6h.1M242.7 517.3h.1M232.2 511.6h.1M216.8 535.3h.1M242.1 523.5h.1M258.9 531.9h.1M202.8 510.2h.1M173.2 527.4h.1M177.7 535.5h.1M246.7 520.5h.1M239.0 533.3h.1M229.6 537.2h.1M214.6 507.1h.1M176.7 518.0h.1M226.0 536.3h.1M244.2 522.1h.1M162.2 530.7h.1M232.8 533.5h.1M170.5 542.8h.1M180.8 533.3h.1M209.6 536.1h.1M178.2 517.1h.1M246.5 514.8h.1M168.1 525.9h.1M202.5 508.5h.1M245.1 506.9h.1M175.6 520.2h.1M160.0 522.0h.1M224.8 500.4h.1M224.4 512.6h.1M236.4 509.1h.1M213.8 538.2h.1M204.9 538.5h.1M232.6 510.0h.1M162.8 536.9h.1M230.4 535.1h.1M253.7 531.5h.1M156.0 514.1h.1M240.2 507.1h.1M177.3 530.5h.1M237.5 511.3h.1M169.8 514.2h.1M211.7 504.9h.1M251.3 514.0h.1M198.5 538.9h.1M152.5 518.7h.1M173.0 528.2h.1M210.9 538.1h.1M187.2 536.3h.1M232.9 513.4h.1M179.8 538.7h.1M254.4 512.8h.1M203.9 505.2h.1M212.5 506.1h.1M178.9 500.3h.1M184.4 497.1h.1M213.1 504.8h.1M237.7 512.4h.1M222.1 505.7h.1M206.3 503.6h.1M195.8 506.8h.1M198.0 505.0h.1M201.4 507.5h.1M229.6 506.0h.1M198.2 510.0h.1M209.4 501.3h.1M200.2 506.4h.1M191.6 511.2h.1M211.5 504.1h.1M226.3 508.9h.1M206.0 508.4h.1M221.0 510.6h.1M192.3 508.7h.1M203.4 505.5h.1M194.5 511.7h.1M225.7 505.1h.1M238.9 506.5h.1M202.4 508.8h.1M218.5 505.1h.1M221.4 509.5h.1M206.5 502.2h.1M218.9 495.9h.1M187.5 497.9h.1M198.6 505.9h.1M198.9 503.6h.1M218.8 497.0h.1M177.5 508.7h.1M227.5 509.0h.1M183.3 497.6h.1M215.8 508.4h.1M159.4 511.1h.1M237.8 511.4h.1M215.2 509.4h.1M201.8 505.6h.1M206.5 502.7h.1M212.0 500.5h.1M232.7 502.7h.1M221.2 510.0h.1M222.9 509.2h.1M225.0 500.9h.1M206.7 505.4h.1M186.4 507.5h.1M240.8 507.5h.1M202.7 508.1h.1M188.7 502.8h.1M236.5 504.8h.1M174.3 508.7h.1M221.7 503.2h.1M221.8 500.6h.1M197.1 505.0h.1M201.7 501.5h.1M218.4 507.9h.1M196.2 505.4h.1M196.6 511.6h.1M214.1 510.2h.1M167.2 510.4h.1M203.4 504.7h.1M179.6 512.7h.1M233.3 507.0h.1M202.3 503.3h.1M220.4 507.4h.1M214.6 508.4h.1M204.1 505.6h.1M190.6 504.3h.1M195.6 511.4h.1M225.1 503.7h.1M191.1 498.2h.1M220.7 510.5h.1M234.8 508.4h.1M212.7 505.3h.1M182.8 510.3h.1M199.1 506.7h.1M191.3 509.5h.1M174.6 500.7h.1M224.8 510.0h.1M187.7 508.2h.1M224.9 512.1h.1M205.5 510.4h.1M224.5 498.5h.1M179.5 506.3h.1M191.2 511.9h.1M232.7 513.6h.1M186.6 509.6h.1M222.2 510.6h.1M220.0 509.1h.1M215.6 508.6h.1M198.3 507.0h.1M188.8 502.0h.1M206.7 502.5h.1M194.2 503.6h.1M184.6 493.3h.1M209.0 503.4h.1M225.5 508.8h.1M180.3 506.5h.1M206.1 502.5h.1M214.8 499.6h.1M205.4 510.6h.1M171.0 509.9h.1M220.7 502.6h.1M184.3 505.9h.1M204.9 505.9h.1M199.4 501.2h.1M172.4 503.2h.1M221.8 510.8h.1M217.9 505.9h.1M194.2 504.3h.1M207.9 499.9h.1M211.3 509.1h.1M193.8 511.4h.1M217.7 495.6h.1M197.6 506.3h.1M163.2 510.1h.1M222.1 509.5h.1M206.3 508.5h.1M174.5 511.6h.1M208.7 506.5h.1M192.7 507.2h.1M194.5 509.5h.1M205.7 503.2h.1M217.2 506.6h.1" stroke="#222" stroke-width="1.15" stroke-linecap="square" opacity="0.62" fill="none"/>
<rect x="150.3" y="399" width="110.8" height="105.6" fill="none" stroke="#666" stroke-width="1.8"/>
<line x1="150.3" y1="399" x2="261.1" y2="399" stroke="#555" stroke-width="2.5" />
<text x="392.6" y="365.6" font-size="32" font-style="italic" fill="#111">Ifnlr1-/-</text>
<line x1="387" y1="370.5" x2="503.4" y2="370.5" stroke="#111" stroke-width="2.6" />
<line x1="340" y1="383.3" x2="531.6" y2="383.3" stroke="#888" stroke-width="1.2" />
<line x1="338.1" y1="393" x2="338.1" y2="578" stroke="#999" stroke-width="1.2" stroke-dasharray="1.5 3"/>
<line x1="338.1" y1="525" x2="338.1" y2="535" stroke="#222" stroke-width="2.5" />
<line x1="340" y1="578.6" x2="531.6" y2="578.6" stroke="#333" stroke-width="1.5" />
<path d="M396.0 579.0h.1M363.6 577.6h.1M403.5 579.1h.1M496.0 578.9h.1M394.4 578.8h.1M526.6 578.2h.1M361.6 577.2h.1M426.0 579.9h.1M518.8 579.2h.1M384.1 578.2h.1M380.4 578.4h.1M486.5 577.2h.1M439.0 577.7h.1M457.6 579.5h.1M485.5 578.1h.1M510.4 577.1h.1M396.1 577.5h.1M469.9 578.6h.1M454.5 577.3h.1M359.7 579.3h.1M463.2 579.9h.1M422.3 578.9h.1M421.5 579.7h.1M396.1 578.6h.1M489.6 578.2h.1M422.4 577.4h.1M522.7 578.6h.1M429.4 577.6h.1M417.9 578.2h.1M375.4 578.2h.1M407.3 579.0h.1M353.9 580.1h.1M500.3 577.1h.1M426.3 579.3h.1M347.8 579.8h.1M524.0 577.3h.1M401.4 580.0h.1M394.0 579.3h.1M492.3 577.1h.1M430.9 578.1h.1" stroke="#222" stroke-width="1.3" stroke-linecap="square" opacity="0.9" fill="none"/>
<text x="343" y="415.2" font-size="26" text-anchor="start" font-weight="normal" font-style="normal" fill="#111">18.6</text>
<path d="M440.8 430.2C444.0 430.2 448.4 431.2 451.0 433.0C453.6 434.8 455.4 437.8 456.5 441.0C457.6 444.2 457.8 448.7 457.5 452.0C457.2 455.3 454.4 458.0 455.0 461.0C455.6 464.0 459.3 466.3 461.0 470.0C462.7 473.7 464.7 478.3 465.0 483.0C465.3 487.7 464.7 494.5 463.0 498.0C461.3 501.5 457.7 503.7 455.0 504.0C452.3 504.3 449.3 500.0 447.0 500.0C444.7 500.0 443.2 504.0 441.0 504.0C438.8 504.0 435.5 503.2 434.0 500.0C432.5 496.8 432.5 490.0 432.0 485.0C431.5 480.0 431.8 473.8 431.0 470.0C430.2 466.2 428.1 465.2 427.0 462.0C425.9 458.8 424.7 454.7 424.5 451.0C424.3 447.3 424.8 443.0 426.0 440.0C427.2 437.0 429.5 434.6 432.0 433.0C434.5 431.4 437.6 430.2 440.8 430.2Z" fill="none" stroke="#333" stroke-width="1.2"/>
<path d="M440.8 431.9C443.7 431.9 447.6 432.8 450.0 434.4C452.4 436.0 454.0 438.8 454.9 441.6C455.9 444.5 456.1 448.5 455.9 451.5C455.6 454.5 458.2 458.1 453.6 459.6C449.0 461.1 433.0 462.0 428.4 460.5C423.8 459.0 426.3 453.9 426.1 450.6C426.0 447.3 426.4 443.4 427.5 440.7C428.6 438.0 430.7 435.9 432.9 434.4C435.1 432.9 438.0 431.9 440.8 431.9Z" fill="none" stroke="#444" stroke-width="0.9"/>
<ellipse cx="441" cy="449.8" rx="8.4" ry="11.5" fill="none" stroke="#333" stroke-width="1.2" opacity="1"/>
<path d="M443.0 468.0C443.7 470.8 445.7 479.7 447.0 485.0C448.3 490.3 450.3 497.5 451.0 500.0" fill="none" stroke="#333" stroke-width="1.0"/>
<path d="M455.0 468.0C455.8 470.0 459.8 475.0 460.0 480.0C460.2 485.0 456.7 495.0 456.0 498.0" fill="none" stroke="#333" stroke-width="1.0"/>
<path d="M421.0 528.0C421.0 524.9 424.4 521.0 426.9 519.0C429.4 517.0 433.7 516.8 436.1 516.0C438.5 515.2 437.6 514.3 441.5 514.0C445.4 513.7 455.6 513.7 459.5 514.0C463.4 514.3 462.5 515.2 464.9 516.0C467.3 516.8 471.6 517.0 474.1 519.0C476.6 521.0 480.0 524.9 480.0 528.0C480.0 531.1 479.0 535.6 474.1 537.6C469.2 539.6 458.4 540.0 450.5 540.0C442.6 540.0 431.8 539.6 426.9 537.6C422.0 535.6 421.0 531.1 421.0 528.0Z" fill="none" stroke="#333" stroke-width="1.0"/>
<ellipse cx="451.38" cy="528.5" rx="25.07" ry="9.69" fill="none" stroke="#333" stroke-width="0.9" opacity="1"/>
<ellipse cx="451.38" cy="528.5" rx="21.24" ry="8.21" fill="none" stroke="#333" stroke-width="0.9" opacity="1"/>
<ellipse cx="451.98" cy="528.8" rx="18.29" ry="6.7" fill="none" stroke="#444" stroke-width="0.8" opacity="1"/>
<ellipse cx="451.98" cy="528.8" rx="16.52" ry="6.05" fill="none" stroke="#444" stroke-width="0.8" opacity="1"/>
<ellipse cx="452.27" cy="529" rx="14.75" ry="5.4" fill="#1a1a1a"/>
<line x1="440.47" y1="525.76" x2="464.07" y2="525.76" stroke="#888" stroke-width="0.7" />
<line x1="440.47" y1="527.92" x2="464.07" y2="527.92" stroke="#888" stroke-width="0.7" />
<line x1="440.47" y1="530.08" x2="464.07" y2="530.08" stroke="#888" stroke-width="0.7" />
<line x1="440.47" y1="532.24" x2="464.07" y2="532.24" stroke="#888" stroke-width="0.7" />
<path d="M476.0 434.7h.1M451.5 432.8h.1M431.0 481.6h.1M424.7 477.8h.1M461.1 457.4h.1M416.9 453.1h.1M426.1 463.1h.1M428.9 472.1h.1M426.9 507.5h.1M464.1 473.9h.1M414.5 453.8h.1M428.0 482.4h.1M462.6 464.4h.1M472.4 487.3h.1M428.8 431.6h.1M465.8 458.1h.1M466.1 459.0h.1M430.6 484.8h.1M430.8 478.2h.1M460.2 426.5h.1M462.6 452.8h.1M458.8 451.3h.1M429.7 483.4h.1M468.3 429.1h.1M419.6 476.7h.1M430.6 472.4h.1M423.2 510.8h.1M463.9 464.6h.1M467.4 454.9h.1M465.9 472.8h.1M427.4 470.9h.1M418.6 459.0h.1M461.3 440.2h.1M424.1 455.5h.1M448.2 503.0h.1M428.3 506.6h.1M456.2 460.0h.1M443.7 507.7h.1M462.2 472.1h.1M418.2 452.7h.1M466.8 436.5h.1M428.9 483.4h.1M425.6 436.2h.1M433.0 431.7h.1M428.1 470.3h.1M421.9 461.7h.1M436.1 513.8h.1M485.5 471.5h.1M412.7 497.4h.1M425.5 464.8h.1M456.6 439.4h.1M466.9 482.8h.1M454.8 419.9h.1M458.7 421.1h.1M447.2 422.9h.1M422.3 435.6h.1M464.9 490.3h.1M427.6 489.0h.1M459.5 438.0h.1M422.9 475.4h.1M480.4 502.4h.1M458.7 442.8h.1M433.3 426.4h.1M463.8 433.4h.1M465.5 460.2h.1M421.1 448.2h.1M446.1 420.1h.1M426.6 466.5h.1M447.0 423.1h.1M457.4 458.2h.1M424.9 478.4h.1M440.5 424.6h.1M429.6 475.9h.1M465.3 432.8h.1M458.3 453.0h.1M466.7 465.0h.1M429.7 426.0h.1M411.9 476.5h.1M468.7 441.5h.1M479.5 456.0h.1M456.3 438.0h.1M418.1 510.5h.1M417.1 441.1h.1M466.4 503.8h.1M424.7 453.9h.1M434.3 421.7h.1M422.9 496.7h.1M445.8 422.6h.1M450.8 431.3h.1M416.9 463.6h.1M430.5 469.2h.1M466.0 484.6h.1M416.1 430.0h.1M470.7 466.0h.1M420.4 455.4h.1M455.7 457.8h.1M473.9 453.8h.1M476.9 447.4h.1M459.8 437.4h.1M464.1 474.1h.1M419.8 472.9h.1M464.1 447.7h.1M459.0 466.8h.1M461.5 427.2h.1M469.2 454.1h.1M459.5 457.1h.1M429.2 479.0h.1M419.3 469.4h.1M423.7 439.0h.1M423.5 486.0h.1M422.2 472.3h.1M469.6 463.5h.1M449.6 502.3h.1M433.7 503.0h.1M431.5 477.5h.1M462.1 428.8h.1M407.9 477.1h.1M468.1 458.3h.1M423.4 482.3h.1M452.7 425.1h.1M428.1 501.5h.1M460.2 438.1h.1M475.1 505.4h.1M421.7 433.5h.1M413.5 489.8h.1M468.3 449.4h.1M424.1 448.1h.1M447.8 430.1h.1M462.2 456.6h.1M456.0 461.6h.1M421.5 459.3h.1M464.5 428.7h.1M470.7 473.5h.1M463.8 458.4h.1M470.7 453.4h.1M466.7 481.7h.1M408.3 452.2h.1M465.3 452.9h.1M425.1 441.4h.1M415.5 488.8h.1M468.6 460.1h.1M407.0 467.3h.1M425.0 460.1h.1M416.5 487.6h.1M430.2 481.9h.1M423.0 420.1h.1M469.4 451.1h.1M459.6 466.8h.1M422.1 482.0h.1M419.3 430.8h.1M423.9 499.9h.1M430.5 480.9h.1M417.0 438.2h.1M462.3 443.2h.1M443.2 424.6h.1M417.2 472.0h.1M456.2 509.6h.1M427.4 482.7h.1M433.5 429.7h.1M428.6 476.8h.1M425.9 464.3h.1M429.6 488.4h.1M467.5 457.3h.1M447.9 425.4h.1M444.8 424.9h.1M462.5 465.6h.1M466.0 470.9h.1M457.0 430.7h.1M465.1 433.1h.1M457.9 463.5h.1M441.1 510.0h.1M474.2 436.2h.1M461.1 467.3h.1M425.5 482.2h.1M425.3 479.3h.1M462.2 454.1h.1M449.4 431.2h.1M459.1 449.7h.1M413.9 437.4h.1M425.0 466.5h.1M422.3 441.8h.1M447.3 507.6h.1M423.4 441.8h.1M435.1 424.2h.1M429.4 486.2h.1M425.6 484.0h.1M420.7 488.0h.1M421.6 433.9h.1M416.8 487.8h.1M424.2 473.3h.1M426.3 489.5h.1M463.2 472.0h.1M454.0 429.0h.1M454.4 432.0h.1M423.8 475.6h.1M470.6 465.3h.1M426.6 498.6h.1M460.8 460.8h.1M466.8 443.9h.1M471.5 502.5h.1M449.4 502.2h.1M425.1 491.7h.1M456.4 455.7h.1M419.5 425.6h.1M422.9 488.1h.1M468.8 436.0h.1M418.6 433.8h.1M467.4 454.4h.1M465.2 432.8h.1M464.9 440.0h.1M429.6 491.3h.1M445.5 427.4h.1M430.3 473.7h.1M430.9 478.7h.1M413.4 512.5h.1M425.8 465.9h.1M421.1 446.5h.1M465.6 444.8h.1M456.9 507.8h.1M460.5 449.0h.1M454.3 425.3h.1M424.7 463.1h.1M426.0 483.2h.1M460.6 451.4h.1M428.2 464.7h.1M431.4 472.9h.1M456.5 460.5h.1M425.3 487.4h.1M424.3 464.6h.1M429.4 483.0h.1M430.8 483.8h.1M458.0 454.2h.1M465.0 455.6h.1M473.4 500.9h.1M462.5 501.0h.1M425.7 458.8h.1M448.7 507.4h.1M415.7 484.4h.1M426.1 474.7h.1M468.0 468.2h.1M428.6 469.7h.1M422.7 445.7h.1M449.5 509.9h.1M465.4 497.0h.1M461.8 453.1h.1M459.1 452.0h.1M455.2 437.8h.1M418.3 490.2h.1M448.9 427.0h.1M421.7 467.0h.1M404.5 489.2h.1M461.7 450.9h.1M428.9 496.7h.1M431.6 433.1h.1M431.0 487.3h.1M460.5 430.6h.1M429.3 499.7h.1M433.7 429.7h.1M427.6 431.0h.1M429.9 431.5h.1M418.7 473.4h.1M423.9 449.6h.1M421.4 492.9h.1M474.0 469.8h.1M419.8 433.0h.1M436.8 503.9h.1M461.0 421.4h.1M418.0 469.3h.1M421.4 467.8h.1M464.9 476.3h.1M459.3 464.6h.1M430.2 426.2h.1M467.9 467.1h.1M428.4 469.2h.1M463.1 470.1h.1M423.7 466.7h.1M424.1 477.2h.1M458.3 464.7h.1M467.4 500.6h.1M461.0 452.1h.1M466.7 466.1h.1M421.6 471.5h.1M471.7 470.3h.1M461.2 461.0h.1M415.1 481.2h.1M457.3 436.9h.1M426.6 469.6h.1M465.7 487.4h.1M433.3 425.8h.1M424.6 452.6h.1M452.1 507.6h.1M413.4 440.4h.1M418.7 462.7h.1M464.4 470.9h.1M428.3 478.4h.1M458.3 446.3h.1M424.2 436.4h.1M460.2 448.1h.1M460.6 453.0h.1M423.2 489.2h.1M456.8 441.1h.1M443.5 512.6h.1M426.0 494.4h.1M424.7 453.7h.1M429.1 506.8h.1M427.5 488.5h.1M472.2 429.7h.1M410.1 478.5h.1M447.0 428.8h.1M425.2 480.6h.1M422.2 486.4h.1M424.2 463.3h.1M421.9 429.3h.1M472.2 456.7h.1M471.3 492.4h.1M459.0 420.2h.1M463.6 463.7h.1M435.6 505.7h.1M418.5 465.6h.1M459.8 426.1h.1M455.7 437.0h.1M423.7 453.8h.1M425.6 473.2h.1M472.0 476.0h.1M431.2 473.1h.1M433.0 429.0h.1M464.9 477.0h.1M462.3 448.1h.1M458.6 450.5h.1M465.9 438.7h.1M457.5 443.4h.1M448.0 500.7h.1M435.5 514.3h.1M453.9 431.8h.1M461.5 435.2h.1M455.0 430.5h.1M450.0 426.2h.1M411.8 471.3h.1M427.6 486.5h.1M462.2 438.4h.1M430.7 495.1h.1M456.8 462.6h.1M450.2 428.7h.1M438.0 423.1h.1M427.1 511.9h.1M428.0 478.5h.1M458.5 503.9h.1M426.9 435.0h.1M412.9 476.8h.1M418.5 438.7h.1M423.4 452.4h.1M421.7 466.5h.1M424.7 443.5h.1M431.5 492.3h.1M427.5 427.3h.1M446.7 422.9h.1M467.1 450.9h.1M429.9 485.0h.1M427.8 477.6h.1M467.6 445.8h.1M433.5 431.4h.1M463.9 443.3h.1M458.9 450.8h.1M426.4 466.6h.1M462.3 466.2h.1M432.2 497.1h.1M428.2 472.2h.1M465.8 473.0h.1M465.2 426.0h.1M430.7 490.8h.1M424.5 448.2h.1M425.2 484.2h.1M424.4 452.9h.1M465.6 467.3h.1M441.6 504.1h.1M457.7 455.2h.1M455.3 435.5h.1M422.1 485.6h.1M459.7 461.4h.1M479.0 441.4h.1M454.0 418.9h.1M426.3 435.9h.1M465.9 454.6h.1M458.3 441.0h.1M429.3 434.0h.1M428.5 476.8h.1M445.8 427.5h.1M459.7 459.4h.1M421.5 491.7h.1M475.2 446.6h.1M459.3 439.5h.1M445.2 504.6h.1M470.8 438.7h.1M467.6 479.4h.1M417.0 493.8h.1M418.8 473.8h.1M432.1 429.5h.1M461.0 469.7h.1M425.7 468.8h.1M453.1 429.6h.1M430.5 431.3h.1M416.6 432.8h.1M429.9 474.5h.1M465.4 475.0h.1M461.7 444.3h.1M482.1 522.7h.1M425.9 508.2h.1M460.6 443.0h.1M424.9 472.3h.1M462.3 454.0h.1M470.1 427.5h.1M447.1 505.5h.1M447.0 501.0h.1M416.6 485.3h.1M423.2 455.7h.1M468.9 441.6h.1M428.7 492.2h.1M427.0 473.6h.1M415.8 488.2h.1M459.8 461.2h.1M424.0 457.7h.1M463.7 446.6h.1M424.0 480.2h.1M469.5 464.7h.1M429.1 474.4h.1M468.1 421.9h.1M427.3 482.3h.1M426.6 472.9h.1M416.6 461.3h.1M425.5 433.8h.1M429.5 486.2h.1M464.6 453.1h.1M446.9 502.3h.1M442.1 420.6h.1M456.1 425.7h.1M430.4 494.8h.1M405.0 465.8h.1M462.8 469.4h.1M460.6 442.1h.1M466.3 512.5h.1M427.6 470.3h.1M422.4 484.6h.1M465.7 443.6h.1M478.9 487.9h.1M428.4 433.3h.1M431.5 481.3h.1M469.8 454.9h.1M416.0 422.8h.1M460.9 451.7h.1M451.6 503.0h.1M422.8 456.5h.1M460.0 449.1h.1M457.9 435.6h.1M419.3 427.9h.1M460.5 427.2h.1M471.1 477.2h.1M442.4 418.0h.1M417.1 434.9h.1M427.8 488.2h.1M431.2 429.7h.1M461.5 438.3h.1M432.5 496.8h.1M458.4 452.3h.1M421.3 443.6h.1M470.4 441.4h.1M439.5 428.6h.1M414.5 462.1h.1M458.1 450.2h.1M448.3 424.9h.1M427.1 432.9h.1M420.8 426.3h.1M458.8 431.5h.1M419.5 447.0h.1M419.3 488.3h.1M465.5 450.9h.1M422.0 480.8h.1M428.6 500.1h.1M425.5 474.1h.1M456.5 463.8h.1M408.8 444.8h.1M417.6 454.5h.1M461.7 433.4h.1M438.6 430.0h.1M442.3 426.7h.1M418.2 461.0h.1M458.6 439.9h.1M462.1 467.3h.1M445.0 429.5h.1M458.2 465.5h.1M431.4 475.2h.1M419.3 438.4h.1M460.7 450.3h.1M410.9 444.2h.1M428.0 466.4h.1M428.7 498.6h.1M473.5 445.5h.1M425.6 470.0h.1M428.0 472.0h.1M429.8 485.9h.1M429.7 473.3h.1M463.9 442.8h.1M460.8 461.9h.1M466.9 462.2h.1M425.3 473.8h.1M462.9 459.1h.1M459.3 464.6h.1M451.2 421.8h.1M414.3 500.4h.1M449.5 428.6h.1M427.8 469.5h.1M471.8 449.0h.1M455.9 462.3h.1M442.9 506.0h.1M457.0 432.1h.1M452.4 431.2h.1M424.2 492.7h.1M446.3 503.8h.1M464.0 430.7h.1M422.4 498.7h.1M461.1 451.1h.1M428.7 423.8h.1M404.2 513.1h.1M468.0 541.4h.1M461.1 540.6h.1M444.8 540.7h.1M476.9 503.6h.1M464.5 543.5h.1M418.9 519.9h.1M427.6 515.3h.1M403.9 541.1h.1M458.3 541.0h.1M420.6 521.5h.1M441.2 546.2h.1M418.6 518.1h.1M449.5 541.2h.1M408.4 517.5h.1M476.7 517.3h.1M460.2 510.0h.1M482.9 535.0h.1M412.7 514.5h.1M407.7 518.5h.1M411.2 534.4h.1M486.5 523.0h.1M480.6 539.3h.1M451.9 543.6h.1M419.6 522.3h.1M489.5 527.9h.1M464.3 546.8h.1M484.8 528.4h.1M486.9 519.9h.1M473.0 510.3h.1M493.1 533.3h.1M426.6 518.0h.1M489.4 524.2h.1M485.5 522.8h.1M473.1 540.9h.1M426.0 517.6h.1M481.1 524.6h.1M411.5 530.1h.1M409.4 517.4h.1M485.2 520.5h.1M492.6 517.0h.1M477.6 521.1h.1M430.3 540.0h.1M403.4 526.0h.1M468.2 541.3h.1M469.6 540.3h.1M420.2 537.5h.1M431.6 543.5h.1M484.9 529.3h.1M456.5 513.2h.1M416.5 534.4h.1M479.1 533.4h.1M488.2 530.3h.1M425.1 517.4h.1M483.2 531.4h.1M480.7 518.5h.1M467.2 540.8h.1M435.7 547.3h.1M478.5 519.7h.1M481.4 535.8h.1M435.2 513.0h.1M456.8 544.7h.1M480.1 528.9h.1M418.3 523.4h.1M477.2 518.1h.1M432.7 539.0h.1M411.5 537.9h.1M406.7 528.6h.1M466.1 546.3h.1M460.5 510.6h.1M461.1 548.4h.1M442.6 505.0h.1M469.0 514.5h.1M431.0 540.2h.1M432.0 539.9h.1M420.9 530.5h.1M482.2 532.2h.1M430.6 544.2h.1M485.1 531.3h.1M485.9 533.5h.1M487.2 537.2h.1M412.1 526.2h.1M446.1 540.8h.1M483.9 531.6h.1M415.9 538.8h.1M401.3 534.2h.1M460.8 504.8h.1M465.1 550.0h.1M487.4 532.2h.1M488.9 534.7h.1M480.6 535.9h.1M449.5 540.2h.1M483.9 523.3h.1M415.7 526.6h.1M484.5 530.3h.1M423.8 518.4h.1M450.6 545.8h.1M493.6 532.9h.1M478.1 549.4h.1M411.0 522.6h.1M412.7 519.8h.1M489.6 538.4h.1M482.4 533.7h.1M429.9 512.6h.1M420.7 526.6h.1M480.0 519.4h.1M489.6 531.4h.1M491.5 542.4h.1M419.5 524.0h.1M467.9 545.3h.1M428.2 538.6h.1M420.2 535.4h.1M415.5 518.3h.1M418.1 532.9h.1M481.3 531.8h.1M476.0 538.0h.1M458.4 540.1h.1M406.0 527.3h.1M408.9 525.1h.1M408.4 529.1h.1M416.6 529.0h.1M480.1 530.1h.1M407.6 514.0h.1M455.6 542.5h.1M483.1 531.8h.1M427.0 543.8h.1M426.5 539.2h.1M413.7 537.2h.1M423.2 540.8h.1M422.1 524.3h.1M481.4 513.5h.1M456.9 553.5h.1M481.4 532.8h.1M468.0 540.3h.1M413.3 530.5h.1M416.4 520.0h.1M463.2 510.9h.1M474.6 511.8h.1M447.4 506.1h.1M450.3 507.4h.1M451.9 512.5h.1M457.4 504.1h.1M446.7 501.4h.1M459.2 507.6h.1M433.9 505.5h.1M434.7 513.6h.1M433.0 504.1h.1M463.5 501.9h.1M442.2 510.1h.1M440.0 511.0h.1M455.3 506.3h.1M444.8 511.3h.1M447.9 507.6h.1M452.4 508.4h.1M453.6 504.8h.1M430.4 509.1h.1M456.6 506.6h.1M436.8 505.1h.1M409.2 513.4h.1M453.0 510.8h.1M477.2 513.3h.1M461.9 512.0h.1M474.0 511.3h.1M458.3 511.3h.1M465.3 513.4h.1M472.4 505.9h.1M408.6 513.8h.1M410.8 508.3h.1M430.8 506.0h.1M417.7 505.8h.1M424.1 510.0h.1M434.6 510.9h.1M420.2 521.3h.1M470.5 512.0h.1M431.5 510.2h.1M474.8 498.0h.1M455.8 512.1h.1M441.7 513.2h.1M453.0 507.6h.1M454.7 508.8h.1M461.9 512.4h.1M441.8 511.9h.1M435.7 506.2h.1M445.1 513.5h.1M472.5 502.6h.1M424.3 506.6h.1M437.3 512.4h.1M468.0 515.9h.1M440.6 507.4h.1M436.1 506.5h.1M440.7 512.5h.1M465.6 515.3h.1M470.6 499.6h.1M463.5 514.3h.1M461.3 509.6h.1M443.0 507.6h.1M439.7 508.9h.1M473.2 511.7h.1M462.4 506.7h.1M429.2 513.9h.1M448.2 507.7h.1M468.5 510.9h.1M439.1 511.6h.1M448.1 511.7h.1M463.7 511.0h.1M442.9 512.2h.1M441.9 509.6h.1M467.4 506.3h.1M459.2 509.5h.1M440.4 511.1h.1M464.0 514.1h.1M433.3 506.9h.1M477.6 500.0h.1M430.3 505.4h.1M450.0 503.6h.1M426.8 511.9h.1M433.1 512.4h.1M429.5 511.7h.1M430.4 517.3h.1M419.2 508.6h.1M449.7 508.2h.1M444.9 507.7h.1M439.5 511.7h.1M476.6 512.7h.1M454.5 507.1h.1M434.2 510.7h.1" stroke="#222" stroke-width="1.15" stroke-linecap="square" opacity="0.62" fill="none"/>
<rect x="399.3" y="402.1" width="96.4" height="106.8" fill="none" stroke="#666" stroke-width="1.8"/>
<line x1="399.3" y1="402.1" x2="495.7" y2="402.1" stroke="#444" stroke-width="2.5" />
<line x1="399.3" y1="508.9" x2="495.7" y2="508.9" stroke="#444" stroke-width="2.5" />
<line x1="203" y1="289" x2="473.4" y2="289" stroke="#111" stroke-width="3" />
<path d="M467.4 279 L488.4 289 L467.4 299 Z" fill="#111"/>
<line x1="208.5" y1="617.3" x2="477.1" y2="617.3" stroke="#111" stroke-width="3" />
<path d="M471.1 607.3 L492.1 617.3 L471.1 627.3 Z" fill="#111"/>
</svg></body></html>
